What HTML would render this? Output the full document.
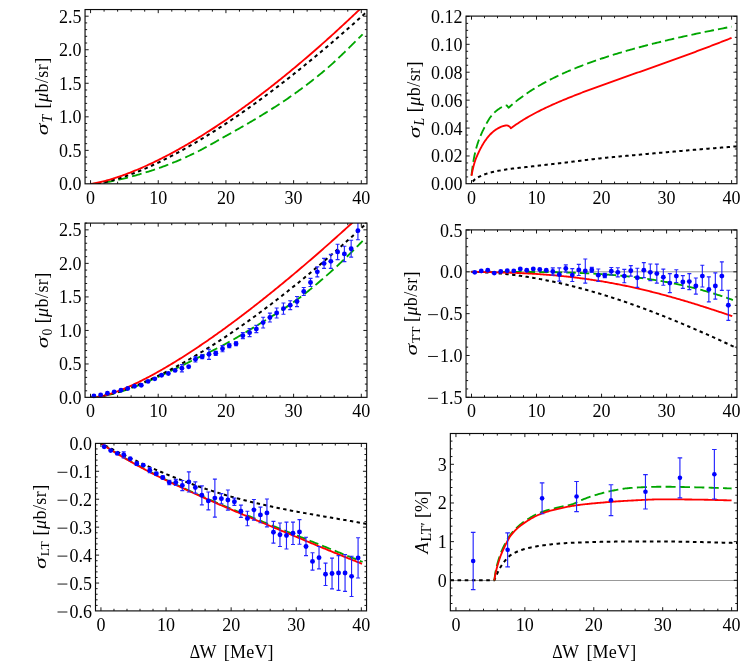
<!DOCTYPE html>
<html><head><meta charset="utf-8"><title>chart</title>
<style>html,body{margin:0;padding:0;background:#fff;}svg{display:block;will-change:transform;}text{font-family:"Liberation Serif",serif;}</style></head>
<body>
<svg width="747" height="662" viewBox="0 0 747 662" font-family='"Liberation Serif", serif' font-size="18" fill="#000">
<defs>
<clipPath id="c1"><rect x="85.05" y="9.55" width="281.9" height="174.25"/></clipPath>
<clipPath id="c2"><rect x="466.05" y="16.1" width="270.9" height="167.6"/></clipPath>
<clipPath id="c3"><rect x="85.05" y="223.1" width="281.95" height="174.25"/></clipPath>
<clipPath id="c4"><rect x="466.05" y="229.9" width="270.9" height="167.4"/></clipPath>
<clipPath id="c5"><rect x="95.5" y="443.4" width="271.05" height="167.5"/></clipPath>
<clipPath id="c6"><rect x="450.35" y="433.5" width="287.05" height="177.3"/></clipPath>
</defs>
<path d="M90.55 183.9L91.69 183.86L92.83 183.8L93.97 183.72L95.1 183.63L96.24 183.52L97.38 183.4L98.52 183.27L99.66 183.13L100.8 182.98L101.94 182.82L103.07 182.66L104.21 182.49L105.35 182.31L106.49 182.13L107.63 181.93L108.77 181.73L109.9 181.52L111.04 181.31L112.18 181.09L113.32 180.87L114.46 180.63L115.6 180.4L116.74 180.16L117.87 179.91L119.01 179.66L120.15 179.41L121.29 179.15L122.43 178.88L123.57 178.61L124.71 178.32L125.84 178.03L126.98 177.74L128.12 177.44L129.26 177.14L130.4 176.84L131.54 176.53L132.67 176.22L133.81 175.91L134.95 175.59L136.09 175.27L137.23 174.95L138.37 174.62L139.51 174.29L140.64 173.96L141.78 173.62L142.92 173.28L144.06 172.94L145.2 172.59L146.34 172.24L147.48 171.88L148.61 171.53L149.75 171.16L150.89 170.8L152.03 170.43L153.17 170.05L154.31 169.67L155.45 169.29L156.58 168.91L157.72 168.52L158.86 168.12L160 167.72L161.14 167.31L162.28 166.9L163.41 166.48L164.55 166.06L165.69 165.63L166.83 165.19L167.97 164.75L169.11 164.31L170.25 163.86L171.38 163.4L172.52 162.94L173.66 162.47L174.8 162L175.94 161.53L177.08 161.04L178.22 160.56L179.35 160.07L180.49 159.58L181.63 159.08L182.77 158.57L183.91 158.07L185.05 157.56L186.18 157.04L187.32 156.52L188.46 156L189.6 155.48L190.74 154.95L191.88 154.41L193.02 153.88L194.15 153.33L195.29 152.77L196.43 152.2L197.57 151.63L198.71 151.05L199.85 150.46L200.99 149.86L202.12 149.26L203.26 148.65L204.4 148.04L205.54 147.42L206.68 146.79L207.82 146.17L208.95 145.53L210.09 144.9L211.23 144.26L212.37 143.62L213.51 142.97L214.65 142.33L215.79 141.68L216.92 141.03L218.06 140.39L219.2 139.74L220.34 139.09L221.48 138.44L222.62 137.8L223.76 137.16L224.89 136.52L226.03 135.88L227.17 135.24L228.31 134.6L229.45 133.97L230.59 133.33L231.73 132.69L232.86 132.05L234 131.41L235.14 130.77L236.28 130.13L237.42 129.48L238.56 128.84L239.69 128.19L240.83 127.55L241.97 126.9L243.11 126.25L244.25 125.59L245.39 124.94L246.53 124.28L247.66 123.62L248.8 122.96L249.94 122.29L251.08 121.62L252.22 120.95L253.36 120.28L254.5 119.6L255.63 118.92L256.77 118.24L257.91 117.55L259.05 116.86L260.19 116.16L261.33 115.46L262.46 114.77L263.6 114.06L264.74 113.36L265.88 112.66L267.02 111.95L268.16 111.24L269.3 110.53L270.43 109.81L271.57 109.1L272.71 108.37L273.85 107.65L274.99 106.92L276.13 106.19L277.27 105.46L278.4 104.72L279.54 103.98L280.68 103.23L281.82 102.48L282.96 101.72L284.1 100.96L285.24 100.2L286.37 99.43L287.51 98.66L288.65 97.88L289.79 97.09L290.93 96.3L292.07 95.51L293.2 94.7L294.34 93.9L295.48 93.08L296.62 92.27L297.76 91.45L298.9 90.62L300.04 89.79L301.17 88.95L302.31 88.11L303.45 87.26L304.59 86.41L305.73 85.55L306.87 84.69L308.01 83.82L309.14 82.95L310.28 82.07L311.42 81.18L312.56 80.29L313.7 79.39L314.84 78.49L315.97 77.58L317.11 76.66L318.25 75.74L319.39 74.81L320.53 73.88L321.67 72.94L322.81 71.99L323.94 71.04L325.08 70.08L326.22 69.11L327.36 68.14L328.5 67.15L329.64 66.16L330.78 65.15L331.91 64.13L333.05 63.09L334.19 62.05L335.33 61L336.47 59.94L337.61 58.87L338.75 57.79L339.88 56.7L341.02 55.61L342.16 54.51L343.3 53.41L344.44 52.3L345.58 51.18L346.71 50.06L347.85 48.94L348.99 47.82L350.13 46.69L351.27 45.56L352.41 44.43L353.55 43.3L354.68 42.18L355.82 41.05L356.96 39.92L358.1 38.8L359.24 37.68L360.38 36.56L361.52 35.44L362.65 34.32" fill="none" stroke="#00a600" stroke-width="1.85" stroke-dasharray="9.87 4.23" clip-path="url(#c1)"/>
<path d="M90.55 183.9L91.7 183.92L92.85 183.88L94 183.81L95.15 183.71L96.3 183.58L97.45 183.44L98.6 183.28L99.75 183.1L100.9 182.9L102.05 182.69L103.2 182.47L104.35 182.24L105.5 181.99L106.65 181.74L107.8 181.47L108.95 181.19L110.1 180.91L111.25 180.61L112.4 180.3L113.55 179.99L114.7 179.66L115.85 179.33L117 178.99L118.15 178.64L119.3 178.29L120.45 177.93L121.6 177.56L122.75 177.18L123.9 176.79L125.05 176.4L126.19 176L127.34 175.6L128.49 175.19L129.64 174.77L130.79 174.35L131.94 173.92L133.09 173.48L134.24 173.04L135.39 172.59L136.54 172.14L137.69 171.68L138.84 171.21L139.99 170.74L141.14 170.27L142.29 169.79L143.44 169.3L144.59 168.81L145.74 168.31L146.89 167.81L148.04 167.3L149.19 166.79L150.34 166.28L151.49 165.75L152.64 165.23L153.79 164.7L154.94 164.16L156.09 163.62L157.24 163.08L158.39 162.53L159.54 161.98L160.69 161.42L161.84 160.86L162.99 160.29L164.14 159.72L165.29 159.14L166.44 158.56L167.59 157.98L168.74 157.39L169.89 156.8L171.04 156.2L172.19 155.6L173.34 155L174.49 154.39L175.64 153.78L176.79 153.17L177.94 152.55L179.09 151.92L180.24 151.3L181.39 150.66L182.54 150.03L183.69 149.39L184.84 148.75L185.99 148.1L187.14 147.46L188.29 146.8L189.44 146.15L190.59 145.49L191.74 144.82L192.89 144.16L194.04 143.48L195.19 142.81L196.34 142.13L197.48 141.45L198.63 140.77L199.78 140.08L200.93 139.39L202.08 138.7L203.23 138L204.38 137.3L205.53 136.59L206.68 135.89L207.83 135.18L208.98 134.46L210.13 133.75L211.28 133.03L212.43 132.3L213.58 131.58L214.73 130.85L215.88 130.11L217.03 129.38L218.18 128.64L219.33 127.9L220.48 127.15L221.63 126.41L222.78 125.66L223.93 124.9L225.08 124.14L226.23 123.39L227.38 122.62L228.53 121.86L229.68 121.09L230.83 120.32L231.98 119.54L233.13 118.77L234.28 117.99L235.43 117.2L236.58 116.42L237.73 115.63L238.88 114.84L240.03 114.05L241.18 113.25L242.33 112.45L243.48 111.65L244.63 110.84L245.78 110.04L246.93 109.23L248.08 108.41L249.23 107.6L250.38 106.78L251.53 105.96L252.68 105.13L253.83 104.31L254.98 103.48L256.13 102.65L257.28 101.81L258.43 100.98L259.58 100.14L260.73 99.3L261.88 98.45L263.03 97.61L264.18 96.76L265.33 95.91L266.48 95.05L267.63 94.19L268.77 93.33L269.92 92.47L271.07 91.61L272.22 90.74L273.37 89.87L274.52 89L275.67 88.13L276.82 87.25L277.97 86.37L279.12 85.49L280.27 84.61L281.42 83.72L282.57 82.83L283.72 81.94L284.87 81.05L286.02 80.15L287.17 79.25L288.32 78.35L289.47 77.45L290.62 76.55L291.77 75.64L292.92 74.73L294.07 73.82L295.22 72.9L296.37 71.99L297.52 71.07L298.67 70.15L299.82 69.22L300.97 68.3L302.12 67.37L303.27 66.44L304.42 65.51L305.57 64.58L306.72 63.64L307.87 62.7L309.02 61.76L310.17 60.82L311.32 59.87L312.47 58.92L313.62 57.97L314.77 57.02L315.92 56.07L317.07 55.11L318.22 54.15L319.37 53.19L320.52 52.23L321.67 51.26L322.82 50.3L323.97 49.33L325.12 48.36L326.27 47.38L327.42 46.41L328.57 45.43L329.72 44.45L330.87 43.47L332.02 42.49L333.17 41.5L334.32 40.51L335.47 39.52L336.62 38.53L337.77 37.54L338.91 36.54L340.06 35.54L341.21 34.54L342.36 33.54L343.51 32.54L344.66 31.53L345.81 30.52L346.96 29.51L348.11 28.5L349.26 27.49L350.41 26.47L351.56 25.45L352.71 24.43L353.86 23.41L355.01 22.39L356.16 21.36L357.31 20.33L358.46 19.31L359.61 18.27L360.76 17.24L361.91 16.2L363.06 15.17L364.21 14.13L365.36 13.09" fill="none" stroke="#000" stroke-width="2.0" stroke-linejoin="round" stroke-dasharray="3.52 3.52" clip-path="url(#c1)"/>
<path d="M90.55 183.9L91.7 183.76L92.85 183.59L94 183.4L95.15 183.2L96.3 182.98L97.45 182.75L98.6 182.5L99.75 182.25L100.9 181.98L102.05 181.71L103.2 181.42L104.35 181.13L105.5 180.82L106.65 180.51L107.8 180.19L108.95 179.86L110.1 179.53L111.25 179.18L112.4 178.83L113.55 178.47L114.7 178.11L115.85 177.74L117 177.36L118.15 176.97L119.3 176.58L120.45 176.18L121.6 175.78L122.75 175.37L123.9 174.95L125.05 174.53L126.19 174.1L127.34 173.67L128.49 173.23L129.64 172.78L130.79 172.33L131.94 171.87L133.09 171.41L134.24 170.94L135.39 170.47L136.54 169.99L137.69 169.51L138.84 169.02L139.99 168.53L141.14 168.03L142.29 167.53L143.44 167.02L144.59 166.51L145.74 165.99L146.89 165.47L148.04 164.94L149.19 164.41L150.34 163.87L151.49 163.33L152.64 162.79L153.79 162.24L154.94 161.68L156.09 161.13L157.24 160.56L158.39 159.99L159.54 159.42L160.69 158.85L161.84 158.27L162.99 157.68L164.14 157.09L165.29 156.5L166.44 155.9L167.59 155.3L168.74 154.7L169.89 154.09L171.04 153.47L172.19 152.85L173.34 152.23L174.49 151.61L175.64 150.98L176.79 150.34L177.94 149.71L179.09 149.07L180.24 148.42L181.39 147.77L182.54 147.12L183.69 146.46L184.84 145.8L185.99 145.14L187.14 144.47L188.29 143.8L189.44 143.13L190.59 142.45L191.74 141.76L192.89 141.08L194.04 140.39L195.19 139.7L196.34 139L197.48 138.3L198.63 137.59L199.78 136.89L200.93 136.18L202.08 135.46L203.23 134.74L204.38 134.02L205.53 133.3L206.68 132.57L207.83 131.84L208.98 131.1L210.13 130.37L211.28 129.62L212.43 128.88L213.58 128.13L214.73 127.38L215.88 126.62L217.03 125.87L218.18 125.1L219.33 124.34L220.48 123.57L221.63 122.8L222.78 122.02L223.93 121.25L225.08 120.47L226.23 119.68L227.38 118.89L228.53 118.1L229.68 117.31L230.83 116.51L231.98 115.71L233.13 114.91L234.28 114.1L235.43 113.29L236.58 112.48L237.73 111.67L238.88 110.85L240.03 110.03L241.18 109.2L242.33 108.37L243.48 107.54L244.63 106.71L245.78 105.87L246.93 105.03L248.08 104.19L249.23 103.34L250.38 102.49L251.53 101.64L252.68 100.79L253.83 99.93L254.98 99.07L256.13 98.21L257.28 97.34L258.43 96.47L259.58 95.6L260.73 94.72L261.88 93.85L263.03 92.96L264.18 92.08L265.33 91.19L266.48 90.3L267.63 89.41L268.77 88.52L269.92 87.62L271.07 86.72L272.22 85.82L273.37 84.91L274.52 84L275.67 83.09L276.82 82.17L277.97 81.26L279.12 80.34L280.27 79.41L281.42 78.49L282.57 77.56L283.72 76.63L284.87 75.69L286.02 74.76L287.17 73.82L288.32 72.88L289.47 71.93L290.62 70.99L291.77 70.04L292.92 69.08L294.07 68.13L295.22 67.17L296.37 66.21L297.52 65.25L298.67 64.28L299.82 63.31L300.97 62.34L302.12 61.37L303.27 60.39L304.42 59.41L305.57 58.43L306.72 57.45L307.87 56.46L309.02 55.47L310.17 54.48L311.32 53.48L312.47 52.49L313.62 51.49L314.77 50.48L315.92 49.48L317.07 48.47L318.22 47.46L319.37 46.45L320.52 45.44L321.67 44.42L322.82 43.4L323.97 42.38L325.12 41.35L326.27 40.32L327.42 39.29L328.57 38.26L329.72 37.23L330.87 36.19L332.02 35.15L333.17 34.11L334.32 33.06L335.47 32.02L336.62 30.97L337.77 29.92L338.91 28.86L340.06 27.8L341.21 26.74L342.36 25.68L343.51 24.62L344.66 23.55L345.81 22.48L346.96 21.41L348.11 20.34L349.26 19.26L350.41 18.18L351.56 17.1L352.71 16.02L353.86 14.93L355.01 13.85L356.16 12.76L357.31 11.66L358.46 10.57L359.61 9.47L360.76 8.37L361.91 7.27L363.06 6.16L364.21 5.06L365.36 3.95" fill="none" stroke="#ff0000" stroke-width="1.85" stroke-linejoin="round" clip-path="url(#c1)"/>
<path d="M90.55 183.8v-3.6M90.55 9.55v3.6M104.09 183.8v-2.1M104.09 9.55v2.1M117.62 183.8v-2.1M117.62 9.55v2.1M131.16 183.8v-2.1M131.16 9.55v2.1M144.7 183.8v-2.1M144.7 9.55v2.1M158.24 183.8v-3.6M158.24 9.55v3.6M171.77 183.8v-2.1M171.77 9.55v2.1M185.31 183.8v-2.1M185.31 9.55v2.1M198.85 183.8v-2.1M198.85 9.55v2.1M212.39 183.8v-2.1M212.39 9.55v2.1M225.93 183.8v-3.6M225.93 9.55v3.6M239.46 183.8v-2.1M239.46 9.55v2.1M253 183.8v-2.1M253 9.55v2.1M266.54 183.8v-2.1M266.54 9.55v2.1M280.07 183.8v-2.1M280.07 9.55v2.1M293.61 183.8v-3.6M293.61 9.55v3.6M307.15 183.8v-2.1M307.15 9.55v2.1M320.69 183.8v-2.1M320.69 9.55v2.1M334.22 183.8v-2.1M334.22 9.55v2.1M347.76 183.8v-2.1M347.76 9.55v2.1M361.3 183.8v-3.6M361.3 9.55v3.6M85.05 177.19h2.1M366.95 177.19h-2.1M85.05 170.48h2.1M366.95 170.48h-2.1M85.05 163.78h2.1M366.95 163.78h-2.1M85.05 157.07h2.1M366.95 157.07h-2.1M85.05 150.36h3.6M366.95 150.36h-3.6M85.05 143.65h2.1M366.95 143.65h-2.1M85.05 136.94h2.1M366.95 136.94h-2.1M85.05 130.24h2.1M366.95 130.24h-2.1M85.05 123.53h2.1M366.95 123.53h-2.1M85.05 116.82h3.6M366.95 116.82h-3.6M85.05 110.11h2.1M366.95 110.11h-2.1M85.05 103.4h2.1M366.95 103.4h-2.1M85.05 96.7h2.1M366.95 96.7h-2.1M85.05 89.99h2.1M366.95 89.99h-2.1M85.05 83.28h3.6M366.95 83.28h-3.6M85.05 76.57h2.1M366.95 76.57h-2.1M85.05 69.86h2.1M366.95 69.86h-2.1M85.05 63.16h2.1M366.95 63.16h-2.1M85.05 56.45h2.1M366.95 56.45h-2.1M85.05 49.74h3.6M366.95 49.74h-3.6M85.05 43.03h2.1M366.95 43.03h-2.1M85.05 36.32h2.1M366.95 36.32h-2.1M85.05 29.62h2.1M366.95 29.62h-2.1M85.05 22.91h2.1M366.95 22.91h-2.1M85.05 16.2h3.6M366.95 16.2h-3.6" stroke="#0c0c0c" stroke-width="0.95" fill="none"/>
<rect x="85.05" y="9.55" width="281.9" height="174.25" fill="none" stroke="#0c0c0c" stroke-width="1.15"/>
<text x="81.45" y="190.4" text-anchor="end">0.0</text>
<text x="81.45" y="156.86" text-anchor="end">0.5</text>
<text x="81.45" y="123.32" text-anchor="end">1.0</text>
<text x="81.45" y="89.78" text-anchor="end">1.5</text>
<text x="81.45" y="56.24" text-anchor="end">2.0</text>
<text x="81.45" y="22.7" text-anchor="end">2.5</text>
<text x="90.55" y="203.9" text-anchor="middle">0</text>
<text x="158.24" y="203.9" text-anchor="middle">10</text>
<text x="225.93" y="203.9" text-anchor="middle">20</text>
<text x="293.61" y="203.9" text-anchor="middle">30</text>
<text x="361.3" y="203.9" text-anchor="middle">40</text>
<path d="M471.5 175.25L471.95 171.48L472.4 167.97L472.85 164.78L473.29 161.93L473.74 159.33L474.19 156.95L474.64 154.81L475.09 152.84L475.54 150.98L475.99 149.22L476.43 147.55L476.88 145.98L477.33 144.49L477.78 143.1L478.23 141.79L478.68 140.54L479.13 139.33L479.57 138.16L480.02 137.04L480.47 135.95L480.92 134.9L481.37 133.88L481.82 132.88L482.27 131.92L482.71 130.97L483.16 130.05L483.61 129.14L484.06 128.24L484.51 127.36L484.96 126.48L485.41 125.62L485.85 124.76L486.3 123.91L486.75 123.08L487.2 122.26L487.65 121.46L488.1 120.69L488.55 119.94L489 119.21L489.44 118.51L489.89 117.85L490.34 117.22L490.79 116.62L491.24 116.06L491.69 115.51L492.14 114.99L492.58 114.47L493.03 113.98L493.48 113.5L493.93 113.04L494.38 112.59L494.83 112.16L495.28 111.75L495.72 111.35L496.17 110.97L496.62 110.6L497.07 110.25L497.52 109.91L497.97 109.59L498.42 109.27L498.86 108.95L499.31 108.64L499.76 108.34L500.21 108.05L500.66 107.77L501.11 107.5L501.56 107.24L502 107L502.45 106.78L502.9 106.57L503.35 106.39L503.8 106.22L504.25 106.08L504.7 105.94L505.14 105.82L505.59 105.71L506.04 105.61L506.49 105.52L506.94 105.45L508.56 107.8L509.97 106.53L511.37 105.29L512.77 104.08L514.18 102.9L515.58 101.75L516.98 100.62L518.38 99.53L519.79 98.45L521.19 97.4L522.59 96.38L523.99 95.37L525.4 94.39L526.8 93.42L528.2 92.48L529.61 91.55L531.01 90.64L532.41 89.75L533.81 88.87L535.22 88.01L536.62 87.16L538.02 86.33L539.42 85.52L540.83 84.71L542.23 83.92L543.63 83.14L545.04 82.38L546.44 81.62L547.84 80.88L549.24 80.15L550.65 79.43L552.05 78.72L553.45 78.02L554.85 77.33L556.26 76.65L557.66 75.98L559.06 75.31L560.47 74.66L561.87 74.02L563.27 73.38L564.67 72.75L566.08 72.13L567.48 71.52L568.88 70.91L570.28 70.32L571.69 69.73L573.09 69.14L574.49 68.57L575.9 68L577.3 67.43L578.7 66.87L580.1 66.32L581.51 65.78L582.91 65.24L584.31 64.71L585.71 64.18L587.12 63.66L588.52 63.14L589.92 62.63L591.33 62.12L592.73 61.62L594.13 61.12L595.53 60.63L596.94 60.15L598.34 59.67L599.74 59.19L601.15 58.72L602.55 58.25L603.95 57.78L605.35 57.32L606.76 56.87L608.16 56.42L609.56 55.97L610.96 55.52L612.37 55.08L613.77 54.65L615.17 54.22L616.58 53.79L617.98 53.36L619.38 52.94L620.78 52.52L622.19 52.11L623.59 51.69L624.99 51.29L626.39 50.88L627.8 50.48L629.2 50.08L630.6 49.68L632.01 49.29L633.41 48.9L634.81 48.51L636.21 48.13L637.62 47.75L639.02 47.37L640.42 46.99L641.82 46.62L643.23 46.25L644.63 45.88L646.03 45.51L647.44 45.15L648.84 44.79L650.24 44.43L651.64 44.07L653.05 43.72L654.45 43.37L655.85 43.02L657.25 42.67L658.66 42.32L660.06 41.98L661.46 41.64L662.87 41.3L664.27 40.96L665.67 40.63L667.07 40.3L668.48 39.96L669.88 39.64L671.28 39.31L672.68 38.98L674.09 38.66L675.49 38.34L676.89 38.02L678.3 37.7L679.7 37.38L681.1 37.07L682.5 36.75L683.91 36.44L685.31 36.13L686.71 35.83L688.12 35.52L689.52 35.21L690.92 34.91L692.32 34.61L693.73 34.31L695.13 34.01L696.53 33.71L697.93 33.41L699.34 33.12L700.74 32.83L702.14 32.53L703.55 32.24L704.95 31.95L706.35 31.66L707.75 31.38L709.16 31.09L710.56 30.81L711.96 30.52L713.36 30.24L714.77 29.96L716.17 29.68L717.57 29.4L718.98 29.13L720.38 28.85L721.78 28.57L723.18 28.3L724.59 28.03L725.99 27.76L727.39 27.48L728.79 27.22L730.2 26.95L731.6 26.68" fill="none" stroke="#00a600" stroke-width="1.85" stroke-linejoin="round" stroke-dasharray="9.48 4.06"/>
<path d="M472.8 181.47L473.91 180.22L475.01 179.22L476.12 178.44L477.22 177.77L478.33 177.17L479.43 176.59L480.54 176.06L481.64 175.55L482.75 175.08L483.85 174.65L484.96 174.25L486.06 173.87L487.17 173.52L488.27 173.19L489.38 172.88L490.48 172.59L491.59 172.31L492.69 172.04L493.8 171.79L494.91 171.54L496.01 171.29L497.12 171.06L498.22 170.84L499.33 170.62L500.43 170.41L501.54 170.21L502.64 170.02L503.75 169.84L504.85 169.67L505.96 169.5L507.06 169.34L508.17 169.19L509.27 169.03L510.38 168.88L511.48 168.74L512.59 168.6L513.69 168.46L514.8 168.32L515.9 168.19L517.01 168.06L518.11 167.93L519.22 167.81L520.33 167.68L521.43 167.56L522.54 167.44L523.64 167.32L524.75 167.2L525.85 167.08L526.96 166.96L528.06 166.84L529.17 166.72L530.27 166.6L531.38 166.48L532.48 166.36L533.59 166.23L534.69 166.11L535.8 165.98L536.9 165.85L538.01 165.72L539.11 165.59L540.22 165.46L541.32 165.33L542.43 165.2L543.54 165.07L544.64 164.95L545.75 164.82L546.85 164.69L547.96 164.56L549.06 164.44L550.17 164.31L551.27 164.18L552.38 164.06L553.48 163.93L554.59 163.8L555.69 163.67L556.8 163.55L557.9 163.42L559.01 163.29L560.11 163.17L561.22 163.04L562.32 162.91L563.43 162.78L564.53 162.65L565.64 162.52L566.74 162.39L567.85 162.26L568.96 162.13L570.06 162L571.17 161.87L572.27 161.74L573.38 161.6L574.48 161.47L575.59 161.33L576.69 161.19L577.8 161.06L578.9 160.92L580.01 160.78L581.11 160.64L582.22 160.5L583.32 160.37L584.43 160.23L585.53 160.09L586.64 159.95L587.74 159.82L588.85 159.68L589.95 159.55L591.06 159.41L592.17 159.28L593.27 159.15L594.38 159.02L595.48 158.89L596.59 158.76L597.69 158.64L598.8 158.51L599.9 158.39L601.01 158.27L602.11 158.16L603.22 158.04L604.32 157.93L605.43 157.82L606.53 157.7L607.64 157.59L608.74 157.49L609.85 157.38L610.95 157.27L612.06 157.16L613.16 157.06L614.27 156.96L615.37 156.85L616.48 156.75L617.59 156.65L618.69 156.54L619.8 156.44L620.9 156.34L622.01 156.24L623.11 156.14L624.22 156.04L625.32 155.94L626.43 155.84L627.53 155.74L628.64 155.64L629.74 155.54L630.85 155.44L631.95 155.34L633.06 155.24L634.16 155.14L635.27 155.03L636.37 154.93L637.48 154.83L638.58 154.73L639.69 154.63L640.8 154.53L641.9 154.43L643.01 154.33L644.11 154.23L645.22 154.12L646.32 154.02L647.43 153.92L648.53 153.82L649.64 153.72L650.74 153.62L651.85 153.53L652.95 153.43L654.06 153.33L655.16 153.23L656.27 153.13L657.37 153.03L658.48 152.93L659.58 152.83L660.69 152.73L661.79 152.64L662.9 152.54L664 152.44L665.11 152.34L666.22 152.25L667.32 152.15L668.43 152.05L669.53 151.96L670.64 151.86L671.74 151.76L672.85 151.67L673.95 151.57L675.06 151.47L676.16 151.38L677.27 151.28L678.37 151.19L679.48 151.09L680.58 150.99L681.69 150.9L682.79 150.8L683.9 150.71L685 150.61L686.11 150.52L687.21 150.43L688.32 150.33L689.43 150.24L690.53 150.14L691.64 150.05L692.74 149.96L693.85 149.86L694.95 149.77L696.06 149.68L697.16 149.58L698.27 149.49L699.37 149.4L700.48 149.31L701.58 149.22L702.69 149.12L703.79 149.03L704.9 148.94L706 148.85L707.11 148.76L708.21 148.67L709.32 148.58L710.42 148.49L711.53 148.41L712.63 148.32L713.74 148.23L714.85 148.14L715.95 148.05L717.06 147.96L718.16 147.87L719.27 147.78L720.37 147.69L721.48 147.6L722.58 147.51L723.69 147.42L724.79 147.33L725.9 147.24L727 147.15L728.11 147.06L729.21 146.97L730.32 146.88L731.42 146.79L732.53 146.69L733.63 146.6L734.74 146.5L735.84 146.41L736.95 146.31" fill="none" stroke="#000" stroke-width="2.0" stroke-dasharray="3.39 3.39" clip-path="url(#c2)"/>
<path d="M471.5 175.8L472 173.15L472.5 170.68L472.99 168.41L473.49 166.34L473.99 164.42L474.49 162.68L474.99 161.15L475.48 159.74L475.98 158.42L476.48 157.19L476.98 156.02L477.48 154.9L477.97 153.81L478.47 152.75L478.97 151.7L479.47 150.68L479.97 149.68L480.46 148.7L480.96 147.75L481.46 146.82L481.96 145.92L482.46 145.05L482.95 144.2L483.45 143.38L483.95 142.59L484.45 141.83L484.95 141.1L485.44 140.38L485.94 139.67L486.44 138.99L486.94 138.32L487.44 137.67L487.93 137.04L488.43 136.43L488.93 135.85L489.43 135.28L489.93 134.74L490.42 134.22L490.92 133.73L491.42 133.26L491.92 132.8L492.42 132.35L492.91 131.92L493.41 131.5L493.91 131.09L494.41 130.7L494.9 130.32L495.4 129.96L495.9 129.61L496.4 129.29L496.9 128.98L497.39 128.69L497.89 128.41L498.39 128.14L498.89 127.88L499.39 127.62L499.88 127.37L500.38 127.13L500.88 126.91L501.38 126.69L501.88 126.49L502.37 126.31L502.87 126.14L503.37 125.99L503.87 125.87L504.37 125.75L504.86 125.64L505.36 125.54L505.86 125.47L506.36 125.42L506.86 125.43L507.35 125.52L507.85 125.69L508.35 125.91L508.85 126.18L509.35 126.48L509.84 126.93L510.34 127.53L510.84 128.21L510.84 128.37L512.23 127.33L513.62 126.31L515.01 125.32L516.39 124.35L517.78 123.4L519.17 122.48L520.56 121.58L521.95 120.69L523.34 119.83L524.72 118.98L526.11 118.16L527.5 117.34L528.89 116.54L530.28 115.76L531.67 114.99L533.05 114.23L534.44 113.49L535.83 112.75L537.22 112.03L538.61 111.32L540 110.62L541.39 109.93L542.77 109.25L544.16 108.58L545.55 107.91L546.94 107.26L548.33 106.61L549.72 105.97L551.1 105.34L552.49 104.71L553.88 104.09L555.27 103.48L556.66 102.87L558.05 102.27L559.44 101.68L560.82 101.09L562.21 100.5L563.6 99.92L564.99 99.35L566.38 98.78L567.77 98.21L569.15 97.65L570.54 97.09L571.93 96.54L573.32 95.99L574.71 95.44L576.1 94.9L577.48 94.36L578.87 93.82L580.26 93.29L581.65 92.76L583.04 92.23L584.43 91.7L585.82 91.18L587.2 90.66L588.59 90.14L589.98 89.62L591.37 89.11L592.76 88.59L594.15 88.08L595.53 87.57L596.92 87.06L598.31 86.56L599.7 86.05L601.09 85.55L602.48 85.05L603.86 84.55L605.25 84.05L606.64 83.55L608.03 83.05L609.42 82.56L610.81 82.06L612.2 81.57L613.58 81.07L614.97 80.58L616.36 80.09L617.75 79.59L619.14 79.1L620.53 78.61L621.91 78.12L623.3 77.63L624.69 77.14L626.08 76.65L627.47 76.16L628.86 75.67L630.24 75.18L631.63 74.7L633.02 74.21L634.41 73.72L635.8 73.23L637.19 72.74L638.58 72.25L639.96 71.76L641.35 71.27L642.74 70.78L644.13 70.29L645.52 69.8L646.91 69.31L648.29 68.82L649.68 68.33L651.07 67.84L652.46 67.35L653.85 66.86L655.24 66.36L656.62 65.87L658.01 65.38L659.4 64.88L660.79 64.39L662.18 63.89L663.57 63.4L664.96 62.9L666.34 62.4L667.73 61.9L669.12 61.41L670.51 60.91L671.9 60.4L673.29 59.9L674.67 59.4L676.06 58.9L677.45 58.39L678.84 57.89L680.23 57.38L681.62 56.88L683.01 56.37L684.39 55.86L685.78 55.35L687.17 54.84L688.56 54.33L689.95 53.82L691.34 53.31L692.72 52.79L694.11 52.28L695.5 51.76L696.89 51.24L698.28 50.72L699.67 50.2L701.05 49.68L702.44 49.16L703.83 48.64L705.22 48.11L706.61 47.58L708 47.06L709.39 46.53L710.77 46L712.16 45.47L713.55 44.94L714.94 44.4L716.33 43.87L717.72 43.33L719.1 42.8L720.49 42.26L721.88 41.72L723.27 41.18L724.66 40.64L726.05 40.09L727.43 39.55L728.82 39L730.21 38.45L731.6 37.9" fill="none" stroke="#ff0000" stroke-width="1.85" stroke-linejoin="round"/>
<path d="M471.5 183.7v-3.6M471.5 16.1v3.6M484.5 183.7v-2.1M484.5 16.1v2.1M497.51 183.7v-2.1M497.51 16.1v2.1M510.51 183.7v-2.1M510.51 16.1v2.1M523.52 183.7v-2.1M523.52 16.1v2.1M536.52 183.7v-3.6M536.52 16.1v3.6M549.53 183.7v-2.1M549.53 16.1v2.1M562.53 183.7v-2.1M562.53 16.1v2.1M575.54 183.7v-2.1M575.54 16.1v2.1M588.54 183.7v-2.1M588.54 16.1v2.1M601.55 183.7v-3.6M601.55 16.1v3.6M614.56 183.7v-2.1M614.56 16.1v2.1M627.56 183.7v-2.1M627.56 16.1v2.1M640.57 183.7v-2.1M640.57 16.1v2.1M653.57 183.7v-2.1M653.57 16.1v2.1M666.58 183.7v-3.6M666.58 16.1v3.6M679.58 183.7v-2.1M679.58 16.1v2.1M692.59 183.7v-2.1M692.59 16.1v2.1M705.59 183.7v-2.1M705.59 16.1v2.1M718.6 183.7v-2.1M718.6 16.1v2.1M731.6 183.7v-3.6M731.6 16.1v3.6M466.05 176.92h2.1M736.95 176.92h-2.1M466.05 169.94h2.1M736.95 169.94h-2.1M466.05 162.96h2.1M736.95 162.96h-2.1M466.05 155.98h3.6M736.95 155.98h-3.6M466.05 149h2.1M736.95 149h-2.1M466.05 142.03h2.1M736.95 142.03h-2.1M466.05 135.05h2.1M736.95 135.05h-2.1M466.05 128.07h3.6M736.95 128.07h-3.6M466.05 121.09h2.1M736.95 121.09h-2.1M466.05 114.11h2.1M736.95 114.11h-2.1M466.05 107.13h2.1M736.95 107.13h-2.1M466.05 100.15h3.6M736.95 100.15h-3.6M466.05 93.17h2.1M736.95 93.17h-2.1M466.05 86.19h2.1M736.95 86.19h-2.1M466.05 79.21h2.1M736.95 79.21h-2.1M466.05 72.23h3.6M736.95 72.23h-3.6M466.05 65.25h2.1M736.95 65.25h-2.1M466.05 58.27h2.1M736.95 58.27h-2.1M466.05 51.3h2.1M736.95 51.3h-2.1M466.05 44.32h3.6M736.95 44.32h-3.6M466.05 37.34h2.1M736.95 37.34h-2.1M466.05 30.36h2.1M736.95 30.36h-2.1M466.05 23.38h2.1M736.95 23.38h-2.1M466.05 16.4h3.6M736.95 16.4h-3.6" stroke="#0c0c0c" stroke-width="0.95" fill="none"/>
<rect x="466.05" y="16.1" width="270.9" height="167.6" fill="none" stroke="#0c0c0c" stroke-width="1.15"/>
<text x="462.45" y="190.4" text-anchor="end">0.00</text>
<text x="462.45" y="162.48" text-anchor="end">0.02</text>
<text x="462.45" y="134.57" text-anchor="end">0.04</text>
<text x="462.45" y="106.65" text-anchor="end">0.06</text>
<text x="462.45" y="78.73" text-anchor="end">0.08</text>
<text x="462.45" y="50.82" text-anchor="end">0.10</text>
<text x="462.45" y="22.9" text-anchor="end">0.12</text>
<text x="471.5" y="203.8" text-anchor="middle">0</text>
<text x="536.52" y="203.8" text-anchor="middle">10</text>
<text x="601.55" y="203.8" text-anchor="middle">20</text>
<text x="666.58" y="203.8" text-anchor="middle">30</text>
<text x="731.6" y="203.8" text-anchor="middle">40</text>
<path d="M90.5 397.5L91.64 397.45L92.78 397.39L93.92 397.31L95.05 397.21L96.19 397.08L97.33 396.93L98.47 396.78L99.61 396.61L100.75 396.42L101.89 396.23L103.03 396.03L104.16 395.82L105.3 395.6L106.44 395.36L107.58 395.11L108.72 394.86L109.86 394.59L111 394.32L112.14 394.04L113.27 393.75L114.41 393.45L115.55 393.15L116.69 392.83L117.83 392.51L118.97 392.19L120.11 391.86L121.25 391.52L122.38 391.16L123.52 390.8L124.66 390.42L125.8 390.03L126.94 389.64L128.08 389.23L129.22 388.82L130.36 388.4L131.49 387.98L132.63 387.55L133.77 387.12L134.91 386.68L136.05 386.23L137.19 385.78L138.33 385.32L139.46 384.86L140.6 384.39L141.74 383.93L142.88 383.45L144.02 382.98L145.16 382.5L146.3 382.01L147.44 381.53L148.57 381.04L149.71 380.55L150.85 380.05L151.99 379.56L153.13 379.06L154.27 378.57L155.41 378.07L156.55 377.57L157.68 377.07L158.82 376.57L159.96 376.07L161.1 375.56L162.24 375.04L163.38 374.52L164.52 374L165.66 373.47L166.79 372.94L167.93 372.4L169.07 371.86L170.21 371.32L171.35 370.77L172.49 370.22L173.63 369.67L174.77 369.12L175.9 368.57L177.04 368.01L178.18 367.45L179.32 366.89L180.46 366.33L181.6 365.77L182.74 365.21L183.88 364.64L185.01 364.08L186.15 363.52L187.29 362.96L188.43 362.39L189.57 361.83L190.71 361.27L191.85 360.72L192.98 360.16L194.12 359.61L195.26 359.05L196.4 358.5L197.54 357.95L198.68 357.39L199.82 356.84L200.96 356.29L202.09 355.74L203.23 355.19L204.37 354.63L205.51 354.08L206.65 353.53L207.79 352.97L208.93 352.41L210.07 351.85L211.2 351.29L212.34 350.72L213.48 350.15L214.62 349.58L215.76 349.01L216.9 348.43L218.04 347.85L219.18 347.27L220.31 346.68L221.45 346.08L222.59 345.49L223.73 344.88L224.87 344.27L226.01 343.66L227.15 343.04L228.29 342.42L229.42 341.78L230.56 341.15L231.7 340.51L232.84 339.86L233.98 339.21L235.12 338.56L236.26 337.9L237.39 337.24L238.53 336.57L239.67 335.9L240.81 335.23L241.95 334.55L243.09 333.87L244.23 333.19L245.37 332.51L246.5 331.82L247.64 331.13L248.78 330.44L249.92 329.75L251.06 329.06L252.2 328.36L253.34 327.66L254.48 326.97L255.61 326.27L256.75 325.57L257.89 324.87L259.03 324.18L260.17 323.48L261.31 322.78L262.45 322.09L263.59 321.39L264.72 320.7L265.86 320L267 319.31L268.14 318.62L269.28 317.92L270.42 317.23L271.56 316.53L272.7 315.83L273.83 315.13L274.97 314.42L276.11 313.71L277.25 313L278.39 312.28L279.53 311.56L280.67 310.84L281.8 310.11L282.94 309.37L284.08 308.63L285.22 307.88L286.36 307.13L287.5 306.36L288.64 305.59L289.78 304.82L290.91 304.03L292.05 303.23L293.19 302.43L294.33 301.62L295.47 300.8L296.61 299.96L297.75 299.12L298.89 298.27L300.02 297.42L301.16 296.55L302.3 295.68L303.44 294.8L304.58 293.91L305.72 293.01L306.86 292.11L308 291.2L309.13 290.28L310.27 289.36L311.41 288.43L312.55 287.49L313.69 286.55L314.83 285.61L315.97 284.65L317.11 283.69L318.24 282.73L319.38 281.76L320.52 280.79L321.66 279.81L322.8 278.83L323.94 277.84L325.08 276.85L326.21 275.86L327.35 274.86L328.49 273.86L329.63 272.85L330.77 271.83L331.91 270.81L333.05 269.77L334.19 268.73L335.32 267.68L336.46 266.63L337.6 265.57L338.74 264.5L339.88 263.42L341.02 262.34L342.16 261.26L343.3 260.16L344.43 259.07L345.57 257.96L346.71 256.86L347.85 255.74L348.99 254.63L350.13 253.51L351.27 252.38L352.41 251.25L353.54 250.12L354.68 248.98L355.82 247.84L356.96 246.7L358.1 245.56L359.24 244.41L360.38 243.26L361.52 242.1L362.65 240.94" fill="none" stroke="#00a600" stroke-width="1.85" stroke-dasharray="9.87 4.23" clip-path="url(#c3)"/>
<path d="M90.5 397.5L91.65 397.48L92.8 397.42L93.95 397.32L95.1 397.2L96.25 397.05L97.4 396.89L98.55 396.71L99.7 396.52L100.85 396.31L102 396.09L103.15 395.86L104.3 395.62L105.45 395.36L106.6 395.1L107.75 394.82L108.9 394.54L110.05 394.24L111.2 393.94L112.35 393.62L113.5 393.3L114.65 392.97L115.8 392.64L116.95 392.29L118.1 391.94L119.25 391.58L120.4 391.21L121.55 390.84L122.7 390.45L123.85 390.07L125 389.67L126.15 389.27L127.3 388.86L128.45 388.45L129.6 388.02L130.75 387.6L131.9 387.16L133.05 386.73L134.2 386.28L135.35 385.83L136.5 385.37L137.65 384.91L138.8 384.44L139.95 383.97L141.1 383.49L142.25 383.01L143.4 382.52L144.55 382.03L145.7 381.53L146.85 381.02L148 380.52L149.15 380L150.3 379.48L151.45 378.96L152.6 378.43L153.75 377.9L154.9 377.36L156.05 376.82L157.2 376.27L158.35 375.72L159.5 375.16L160.65 374.6L161.8 374.04L162.95 373.47L164.1 372.89L165.25 372.32L166.4 371.73L167.55 371.15L168.7 370.56L169.85 369.96L171 369.36L172.15 368.76L173.3 368.15L174.45 367.54L175.6 366.93L176.75 366.31L177.9 365.69L179.05 365.06L180.2 364.43L181.35 363.79L182.5 363.16L183.65 362.51L184.8 361.87L185.95 361.22L187.1 360.57L188.25 359.91L189.4 359.25L190.55 358.59L191.7 357.92L192.85 357.25L194 356.57L195.15 355.89L196.3 355.21L197.45 354.53L198.6 353.84L199.75 353.15L200.9 352.45L202.05 351.75L203.2 351.05L204.35 350.34L205.51 349.63L206.66 348.92L207.81 348.2L208.96 347.49L210.11 346.76L211.26 346.04L212.41 345.31L213.56 344.58L214.71 343.84L215.86 343.1L217.01 342.36L218.16 341.62L219.31 340.87L220.46 340.12L221.61 339.36L222.76 338.61L223.91 337.85L225.06 337.08L226.21 336.32L227.36 335.55L228.51 334.77L229.66 334L230.81 333.22L231.96 332.44L233.11 331.65L234.26 330.87L235.41 330.08L236.56 329.28L237.71 328.49L238.86 327.69L240.01 326.88L241.16 326.08L242.31 325.27L243.46 324.46L244.61 323.65L245.76 322.83L246.91 322.01L248.06 321.19L249.21 320.37L250.36 319.54L251.51 318.71L252.66 317.88L253.81 317.04L254.96 316.2L256.11 315.36L257.26 314.52L258.41 313.67L259.56 312.82L260.71 311.97L261.86 311.12L263.01 310.26L264.16 309.4L265.31 308.54L266.46 307.67L267.61 306.8L268.76 305.93L269.91 305.06L271.06 304.18L272.21 303.31L273.36 302.43L274.51 301.54L275.66 300.66L276.81 299.77L277.96 298.88L279.11 297.98L280.26 297.09L281.41 296.19L282.56 295.29L283.71 294.39L284.86 293.48L286.01 292.57L287.16 291.66L288.31 290.75L289.46 289.83L290.61 288.91L291.76 287.99L292.91 287.07L294.06 286.14L295.21 285.22L296.36 284.29L297.51 283.35L298.66 282.42L299.81 281.48L300.96 280.54L302.11 279.6L303.26 278.65L304.41 277.71L305.56 276.76L306.71 275.81L307.86 274.85L309.01 273.9L310.16 272.94L311.31 271.98L312.46 271.01L313.61 270.05L314.76 269.08L315.91 268.11L317.06 267.14L318.21 266.16L319.36 265.19L320.51 264.21L321.66 263.23L322.81 262.24L323.96 261.26L325.11 260.27L326.26 259.28L327.41 258.29L328.56 257.29L329.71 256.29L330.86 255.3L332.01 254.29L333.16 253.29L334.31 252.28L335.46 251.28L336.61 250.27L337.76 249.25L338.91 248.24L340.06 247.22L341.21 246.21L342.36 245.18L343.51 244.16L344.66 243.14L345.81 242.11L346.96 241.08L348.11 240.05L349.26 239.01L350.41 237.98L351.56 236.94L352.71 235.9L353.86 234.86L355.01 233.82L356.16 232.77L357.31 231.72L358.46 230.67L359.61 229.62L360.76 228.56L361.91 227.51L363.06 226.45L364.21 225.39L365.36 224.33" fill="none" stroke="#000" stroke-width="2.0" stroke-linejoin="round" stroke-dasharray="3.52 3.52" clip-path="url(#c3)"/>
<path d="M90.5 397.5L91.65 397.63L92.8 397.63L93.95 397.56L95.1 397.45L96.25 397.31L97.4 397.14L98.55 396.93L99.7 396.71L100.85 396.47L102 396.21L103.15 395.93L104.3 395.63L105.45 395.32L106.6 394.99L107.75 394.65L108.9 394.3L110.05 393.94L111.2 393.56L112.35 393.18L113.5 392.78L114.65 392.38L115.8 391.96L116.95 391.53L118.1 391.1L119.25 390.66L120.4 390.21L121.55 389.75L122.7 389.28L123.85 388.8L125 388.32L126.15 387.83L127.3 387.33L128.45 386.83L129.6 386.31L130.75 385.8L131.9 385.27L133.05 384.74L134.2 384.2L135.35 383.66L136.5 383.11L137.65 382.55L138.8 381.99L139.95 381.43L141.1 380.85L142.25 380.28L143.4 379.69L144.55 379.11L145.7 378.51L146.85 377.91L148 377.31L149.15 376.7L150.3 376.09L151.45 375.47L152.6 374.85L153.75 374.22L154.9 373.59L156.05 372.95L157.2 372.31L158.35 371.66L159.5 371.01L160.65 370.36L161.8 369.7L162.95 369.04L164.1 368.37L165.25 367.7L166.4 367.03L167.55 366.35L168.7 365.67L169.85 364.98L171 364.29L172.15 363.6L173.3 362.9L174.45 362.2L175.6 361.49L176.75 360.78L177.9 360.07L179.05 359.35L180.2 358.63L181.35 357.91L182.5 357.18L183.65 356.45L184.8 355.72L185.95 354.98L187.1 354.24L188.25 353.5L189.4 352.75L190.55 352.01L191.7 351.25L192.85 350.5L194 349.74L195.15 348.97L196.3 348.21L197.45 347.44L198.6 346.67L199.75 345.89L200.9 345.12L202.05 344.34L203.2 343.55L204.35 342.77L205.51 341.98L206.66 341.19L207.81 340.39L208.96 339.59L210.11 338.79L211.26 337.99L212.41 337.18L213.56 336.37L214.71 335.56L215.86 334.75L217.01 333.93L218.16 333.11L219.31 332.29L220.46 331.46L221.61 330.64L222.76 329.81L223.91 328.97L225.06 328.14L226.21 327.3L227.36 326.46L228.51 325.62L229.66 324.77L230.81 323.92L231.96 323.07L233.11 322.22L234.26 321.37L235.41 320.51L236.56 319.65L237.71 318.79L238.86 317.92L240.01 317.05L241.16 316.18L242.31 315.31L243.46 314.44L244.61 313.56L245.76 312.68L246.91 311.8L248.06 310.92L249.21 310.03L250.36 309.15L251.51 308.26L252.66 307.36L253.81 306.47L254.96 305.57L256.11 304.67L257.26 303.77L258.41 302.87L259.56 301.97L260.71 301.06L261.86 300.15L263.01 299.24L264.16 298.32L265.31 297.41L266.46 296.49L267.61 295.57L268.76 294.65L269.91 293.73L271.06 292.8L272.21 291.87L273.36 290.94L274.51 290.01L275.66 289.08L276.81 288.14L277.96 287.2L279.11 286.26L280.26 285.32L281.41 284.38L282.56 283.43L283.71 282.49L284.86 281.54L286.01 280.58L287.16 279.63L288.31 278.68L289.46 277.72L290.61 276.76L291.76 275.8L292.91 274.84L294.06 273.87L295.21 272.91L296.36 271.94L297.51 270.97L298.66 270L299.81 269.02L300.96 268.05L302.11 267.07L303.26 266.09L304.41 265.11L305.56 264.13L306.71 263.14L307.86 262.16L309.01 261.17L310.16 260.18L311.31 259.19L312.46 258.2L313.61 257.2L314.76 256.21L315.91 255.21L317.06 254.21L318.21 253.21L319.36 252.2L320.51 251.2L321.66 250.19L322.81 249.18L323.96 248.17L325.11 247.16L326.26 246.15L327.41 245.14L328.56 244.12L329.71 243.1L330.86 242.08L332.01 241.06L333.16 240.04L334.31 239.01L335.46 237.99L336.61 236.96L337.76 235.93L338.91 234.9L340.06 233.87L341.21 232.83L342.36 231.8L343.51 230.76L344.66 229.72L345.81 228.68L346.96 227.64L348.11 226.6L349.26 225.55L350.41 224.51L351.56 223.46L352.71 222.41L353.86 221.36L355.01 220.31L356.16 219.25L357.31 218.2L358.46 217.14L359.61 216.08L360.76 215.02L361.91 213.96L363.06 212.9L364.21 211.83L365.36 210.77" fill="none" stroke="#ff0000" stroke-width="1.85" stroke-linejoin="round" clip-path="url(#c3)"/>
<path d="M181.9 364.57V371.82M179.9 364.57h4M179.9 371.82h4M195.44 356.66V362.03M193.44 356.66h4M193.44 362.03h4M202.21 354.72V358.74M200.21 354.72h4M200.21 358.74h4M208.98 349.28V359.34M206.98 349.28h4M206.98 359.34h4M215.75 351.3V355.32M213.75 351.3h4M213.75 355.32h4M222.52 345.66V351.7M220.52 345.66h4M220.52 351.7h4M229.28 343.72V347.74M227.28 343.72h4M227.28 347.74h4M236.06 341.71V345.73M234.06 341.71h4M234.06 345.73h4M242.83 332.65V338.69M240.83 332.65h4M240.83 338.69h4M249.59 328.63V336.68M247.59 328.63h4M247.59 336.68h4M256.37 325.41V332.65M254.37 325.41h4M254.37 332.65h4M263.13 317.23V327.96M261.13 317.23h4M261.13 327.96h4M269.9 313.14V321.99M267.9 313.14h4M267.9 321.99h4M276.68 307.97V318.03M274.68 307.97h4M274.68 318.03h4M283.45 302.95V314.21M281.45 302.95h4M281.45 314.21h4M290.22 300.73V309.58M288.22 300.73h4M288.22 309.58h4M296.99 296.51V306.57M294.99 296.51h4M294.99 306.57h4M303.75 287.45V295.5M301.75 287.45h4M301.75 295.5h4M310.52 278.4V286.45M308.52 278.4h4M308.52 286.45h4M317.3 266.8V276.86M315.3 266.8h4M315.3 276.86h4M324.07 258.35V268.41M322.07 258.35h4M322.07 268.41h4M330.84 254.33V268.41M328.84 254.33h4M328.84 268.41h4M337.61 244.27V259.56M335.61 244.27h4M335.61 259.56h4M344.38 246.28V261.57M342.38 246.28h4M342.38 261.57h4M351.15 240.24V257.14M349.15 240.24h4M349.15 257.14h4M357.92 221.6V239.71M355.92 221.6h4M355.92 239.71h4" fill="none" stroke="#2424ff" stroke-width="1.15" clip-path="url(#c3)"/>
<circle cx="93.89" cy="395.89" r="2.45" fill="#0000ff"/>
<circle cx="100.66" cy="394.88" r="2.45" fill="#0000ff"/>
<circle cx="107.42" cy="393.28" r="2.45" fill="#0000ff"/>
<circle cx="114.19" cy="391.87" r="2.45" fill="#0000ff"/>
<circle cx="120.97" cy="390.26" r="2.45" fill="#0000ff"/>
<circle cx="127.73" cy="388.45" r="2.45" fill="#0000ff"/>
<circle cx="134.5" cy="386.23" r="2.45" fill="#0000ff"/>
<circle cx="141.28" cy="385.23" r="2.45" fill="#0000ff"/>
<circle cx="148.05" cy="381.41" r="2.45" fill="#0000ff"/>
<circle cx="154.81" cy="378.86" r="2.45" fill="#0000ff"/>
<circle cx="161.59" cy="375.24" r="2.45" fill="#0000ff"/>
<circle cx="168.36" cy="373.43" r="2.45" fill="#0000ff"/>
<circle cx="175.12" cy="370.41" r="2.45" fill="#0000ff"/>
<circle cx="181.9" cy="368.19" r="2.45" fill="#0000ff"/>
<circle cx="188.67" cy="366.79" r="2.45" fill="#0000ff"/>
<circle cx="195.44" cy="359.34" r="2.45" fill="#0000ff"/>
<circle cx="202.21" cy="356.73" r="2.45" fill="#0000ff"/>
<circle cx="208.98" cy="354.31" r="2.45" fill="#0000ff"/>
<circle cx="215.75" cy="353.31" r="2.45" fill="#0000ff"/>
<circle cx="222.52" cy="348.68" r="2.45" fill="#0000ff"/>
<circle cx="229.28" cy="345.73" r="2.45" fill="#0000ff"/>
<circle cx="236.06" cy="343.72" r="2.45" fill="#0000ff"/>
<circle cx="242.83" cy="335.67" r="2.45" fill="#0000ff"/>
<circle cx="249.59" cy="332.65" r="2.45" fill="#0000ff"/>
<circle cx="256.37" cy="329.03" r="2.45" fill="#0000ff"/>
<circle cx="263.13" cy="322.59" r="2.45" fill="#0000ff"/>
<circle cx="269.9" cy="317.56" r="2.45" fill="#0000ff"/>
<circle cx="276.68" cy="313" r="2.45" fill="#0000ff"/>
<circle cx="283.45" cy="308.58" r="2.45" fill="#0000ff"/>
<circle cx="290.22" cy="305.16" r="2.45" fill="#0000ff"/>
<circle cx="296.99" cy="301.54" r="2.45" fill="#0000ff"/>
<circle cx="303.75" cy="291.48" r="2.45" fill="#0000ff"/>
<circle cx="310.52" cy="282.43" r="2.45" fill="#0000ff"/>
<circle cx="317.3" cy="271.83" r="2.45" fill="#0000ff"/>
<circle cx="324.07" cy="263.38" r="2.45" fill="#0000ff"/>
<circle cx="330.84" cy="261.37" r="2.45" fill="#0000ff"/>
<circle cx="337.61" cy="251.91" r="2.45" fill="#0000ff"/>
<circle cx="344.38" cy="253.92" r="2.45" fill="#0000ff"/>
<circle cx="351.15" cy="248.69" r="2.45" fill="#0000ff"/>
<circle cx="357.92" cy="230.65" r="2.45" fill="#0000ff"/>
<path d="M90.5 397.35v-3.6M90.5 223.1v3.6M104.04 397.35v-2.1M104.04 223.1v2.1M117.58 397.35v-2.1M117.58 223.1v2.1M131.12 397.35v-2.1M131.12 223.1v2.1M144.66 397.35v-2.1M144.66 223.1v2.1M158.2 397.35v-3.6M158.2 223.1v3.6M171.74 397.35v-2.1M171.74 223.1v2.1M185.28 397.35v-2.1M185.28 223.1v2.1M198.82 397.35v-2.1M198.82 223.1v2.1M212.36 397.35v-2.1M212.36 223.1v2.1M225.9 397.35v-3.6M225.9 223.1v3.6M239.44 397.35v-2.1M239.44 223.1v2.1M252.98 397.35v-2.1M252.98 223.1v2.1M266.52 397.35v-2.1M266.52 223.1v2.1M280.06 397.35v-2.1M280.06 223.1v2.1M293.6 397.35v-3.6M293.6 223.1v3.6M307.14 397.35v-2.1M307.14 223.1v2.1M320.68 397.35v-2.1M320.68 223.1v2.1M334.22 397.35v-2.1M334.22 223.1v2.1M347.76 397.35v-2.1M347.76 223.1v2.1M361.3 397.35v-3.6M361.3 223.1v3.6M85.05 390.79h2.1M367 390.79h-2.1M85.05 384.09h2.1M367 384.09h-2.1M85.05 377.38h2.1M367 377.38h-2.1M85.05 370.68h2.1M367 370.68h-2.1M85.05 363.97h3.6M367 363.97h-3.6M85.05 357.26h2.1M367 357.26h-2.1M85.05 350.56h2.1M367 350.56h-2.1M85.05 343.85h2.1M367 343.85h-2.1M85.05 337.15h2.1M367 337.15h-2.1M85.05 330.44h3.6M367 330.44h-3.6M85.05 323.73h2.1M367 323.73h-2.1M85.05 317.03h2.1M367 317.03h-2.1M85.05 310.32h2.1M367 310.32h-2.1M85.05 303.62h2.1M367 303.62h-2.1M85.05 296.91h3.6M367 296.91h-3.6M85.05 290.2h2.1M367 290.2h-2.1M85.05 283.5h2.1M367 283.5h-2.1M85.05 276.79h2.1M367 276.79h-2.1M85.05 270.09h2.1M367 270.09h-2.1M85.05 263.38h3.6M367 263.38h-3.6M85.05 256.67h2.1M367 256.67h-2.1M85.05 249.97h2.1M367 249.97h-2.1M85.05 243.26h2.1M367 243.26h-2.1M85.05 236.56h2.1M367 236.56h-2.1M85.05 229.85h3.6M367 229.85h-3.6M85.05 223.14h2.1M367 223.14h-2.1" stroke="#0c0c0c" stroke-width="0.95" fill="none"/>
<rect x="85.05" y="223.1" width="281.95" height="174.25" fill="none" stroke="#0c0c0c" stroke-width="1.15"/>
<text x="81.45" y="404" text-anchor="end">0.0</text>
<text x="81.45" y="370.47" text-anchor="end">0.5</text>
<text x="81.45" y="336.94" text-anchor="end">1.0</text>
<text x="81.45" y="303.41" text-anchor="end">1.5</text>
<text x="81.45" y="269.88" text-anchor="end">2.0</text>
<text x="81.45" y="236.35" text-anchor="end">2.5</text>
<text x="90.5" y="417.45" text-anchor="middle">0</text>
<text x="158.2" y="417.45" text-anchor="middle">10</text>
<text x="225.9" y="417.45" text-anchor="middle">20</text>
<text x="293.6" y="417.45" text-anchor="middle">30</text>
<text x="361.3" y="417.45" text-anchor="middle">40</text>
<path d="M466.05 271.8H736.95" stroke="#999" stroke-width="1"/>
<path d="M471.5 271.82L472.59 271.83L473.69 271.84L474.78 271.85L475.87 271.85L476.97 271.86L478.06 271.86L479.16 271.87L480.25 271.87L481.34 271.88L482.44 271.88L483.53 271.88L484.62 271.89L485.72 271.89L486.81 271.89L487.91 271.89L489 271.9L490.09 271.9L491.19 271.9L492.28 271.9L493.37 271.9L494.47 271.9L495.56 271.9L496.66 271.9L497.75 271.9L498.84 271.91L499.94 271.91L501.03 271.91L502.12 271.91L503.22 271.91L504.31 271.91L505.41 271.91L506.5 271.91L507.59 271.91L508.69 271.91L509.78 271.91L510.87 271.91L511.97 271.91L513.06 271.91L514.16 271.91L515.25 271.91L516.34 271.92L517.44 271.92L518.53 271.92L519.62 271.92L520.72 271.92L521.81 271.93L522.91 271.93L524 271.93L525.09 271.94L526.19 271.94L527.28 271.95L528.37 271.95L529.47 271.96L530.56 271.96L531.65 271.97L532.75 271.98L533.84 271.98L534.94 271.99L536.03 272L537.12 272.01L538.22 272.02L539.31 272.03L540.4 272.04L541.5 272.05L542.59 272.06L543.69 272.08L544.78 272.09L545.87 272.1L546.97 272.12L548.06 272.13L549.15 272.15L550.25 272.17L551.34 272.18L552.44 272.2L553.53 272.22L554.62 272.24L555.72 272.26L556.81 272.28L557.9 272.31L559 272.33L560.09 272.35L561.19 272.38L562.28 272.41L563.37 272.43L564.47 272.46L565.56 272.49L566.65 272.52L567.75 272.55L568.84 272.59L569.94 272.62L571.03 272.66L572.12 272.69L573.22 272.73L574.31 272.77L575.4 272.81L576.5 272.85L577.59 272.89L578.69 272.93L579.78 272.98L580.87 273.02L581.97 273.07L583.06 273.12L584.15 273.17L585.25 273.22L586.34 273.27L587.43 273.32L588.53 273.38L589.62 273.44L590.72 273.49L591.81 273.55L592.9 273.61L594 273.68L595.09 273.74L596.18 273.8L597.28 273.87L598.37 273.94L599.47 274.01L600.56 274.08L601.65 274.16L602.75 274.23L603.84 274.31L604.93 274.38L606.03 274.46L607.12 274.55L608.22 274.63L609.31 274.71L610.4 274.8L611.5 274.89L612.59 274.98L613.68 275.07L614.78 275.17L615.87 275.26L616.97 275.36L618.06 275.46L619.15 275.56L620.25 275.67L621.34 275.77L622.43 275.88L623.53 275.99L624.62 276.1L625.72 276.21L626.81 276.33L627.9 276.44L629 276.56L630.09 276.69L631.18 276.81L632.28 276.94L633.37 277.06L634.47 277.19L635.56 277.33L636.65 277.46L637.75 277.6L638.84 277.74L639.93 277.88L641.03 278.02L642.12 278.17L643.21 278.31L644.31 278.46L645.4 278.62L646.5 278.77L647.59 278.93L648.68 279.09L649.78 279.25L650.87 279.42L651.96 279.58L653.06 279.75L654.15 279.93L655.25 280.1L656.34 280.28L657.43 280.46L658.53 280.64L659.62 280.82L660.71 281.01L661.81 281.2L662.9 281.39L664 281.59L665.09 281.79L666.18 281.99L667.28 282.19L668.37 282.4L669.46 282.61L670.56 282.82L671.65 283.03L672.75 283.25L673.84 283.47L674.93 283.69L676.03 283.92L677.12 284.15L678.21 284.38L679.31 284.61L680.4 284.85L681.5 285.09L682.59 285.33L683.68 285.58L684.78 285.83L685.87 286.08L686.96 286.33L688.06 286.59L689.15 286.85L690.25 287.12L691.34 287.38L692.43 287.65L693.53 287.93L694.62 288.2L695.71 288.48L696.81 288.77L697.9 289.05L698.99 289.34L700.09 289.64L701.18 289.93L702.28 290.23L703.37 290.53L704.46 290.84L705.56 291.15L706.65 291.46L707.74 291.78L708.84 292.1L709.93 292.42L711.03 292.75L712.12 293.08L713.21 293.41L714.31 293.75L715.4 294.09L716.49 294.43L717.59 294.78L718.68 295.13L719.78 295.48L720.87 295.84L721.96 296.2L723.06 296.57L724.15 296.93L725.24 297.31L726.34 297.68L727.43 298.06L728.53 298.45L729.62 298.83L730.71 299.22L731.81 299.62L732.9 300.02" fill="none" stroke="#00a600" stroke-width="1.85" stroke-linejoin="round" stroke-dasharray="9.48 4.06" clip-path="url(#c4)"/>
<path d="M471.5 271.82L472.61 271.85L473.72 271.88L474.83 271.91L475.94 271.94L477.05 271.98L478.16 272.02L479.27 272.06L480.39 272.11L481.5 272.16L482.61 272.21L483.72 272.27L484.83 272.33L485.94 272.39L487.05 272.46L488.16 272.53L489.27 272.6L490.38 272.68L491.49 272.75L492.6 272.84L493.71 272.92L494.82 273.01L495.93 273.1L497.05 273.19L498.16 273.29L499.27 273.39L500.38 273.49L501.49 273.6L502.6 273.71L503.71 273.82L504.82 273.94L505.93 274.05L507.04 274.17L508.15 274.3L509.26 274.43L510.37 274.56L511.48 274.69L512.59 274.82L513.71 274.96L514.82 275.1L515.93 275.25L517.04 275.4L518.15 275.55L519.26 275.7L520.37 275.85L521.48 276.01L522.59 276.17L523.7 276.34L524.81 276.51L525.92 276.68L527.03 276.85L528.14 277.02L529.25 277.2L530.37 277.38L531.48 277.57L532.59 277.75L533.7 277.94L534.81 278.13L535.92 278.33L537.03 278.53L538.14 278.73L539.25 278.93L540.36 279.13L541.47 279.34L542.58 279.55L543.69 279.77L544.8 279.98L545.91 280.2L547.03 280.42L548.14 280.65L549.25 280.87L550.36 281.1L551.47 281.33L552.58 281.57L553.69 281.8L554.8 282.04L555.91 282.28L557.02 282.53L558.13 282.77L559.24 283.02L560.35 283.28L561.46 283.53L562.57 283.79L563.69 284.05L564.8 284.31L565.91 284.57L567.02 284.84L568.13 285.11L569.24 285.38L570.35 285.65L571.46 285.93L572.57 286.21L573.68 286.49L574.79 286.77L575.9 287.05L577.01 287.34L578.12 287.63L579.23 287.93L580.35 288.22L581.46 288.52L582.57 288.82L583.68 289.12L584.79 289.42L585.9 289.73L587.01 290.04L588.12 290.35L589.23 290.66L590.34 290.98L591.45 291.29L592.56 291.61L593.67 291.93L594.78 292.26L595.89 292.58L597.01 292.91L598.12 293.24L599.23 293.58L600.34 293.91L601.45 294.25L602.56 294.59L603.67 294.93L604.78 295.27L605.89 295.61L607 295.96L608.11 296.31L609.22 296.66L610.33 297.02L611.44 297.37L612.56 297.73L613.67 298.09L614.78 298.45L615.89 298.81L617 299.18L618.11 299.55L619.22 299.92L620.33 300.29L621.44 300.66L622.55 301.04L623.66 301.41L624.77 301.79L625.88 302.17L626.99 302.56L628.1 302.94L629.22 303.33L630.33 303.71L631.44 304.11L632.55 304.5L633.66 304.89L634.77 305.29L635.88 305.68L636.99 306.08L638.1 306.49L639.21 306.89L640.32 307.29L641.43 307.7L642.54 308.11L643.65 308.52L644.76 308.93L645.88 309.34L646.99 309.76L648.1 310.18L649.21 310.59L650.32 311.01L651.43 311.44L652.54 311.86L653.65 312.28L654.76 312.71L655.87 313.14L656.98 313.57L658.09 314L659.2 314.44L660.31 314.87L661.42 315.31L662.54 315.74L663.65 316.18L664.76 316.63L665.87 317.07L666.98 317.51L668.09 317.96L669.2 318.41L670.31 318.85L671.42 319.31L672.53 319.76L673.64 320.21L674.75 320.67L675.86 321.12L676.97 321.58L678.08 322.04L679.2 322.5L680.31 322.96L681.42 323.42L682.53 323.89L683.64 324.35L684.75 324.82L685.86 325.29L686.97 325.76L688.08 326.23L689.19 326.71L690.3 327.18L691.41 327.66L692.52 328.13L693.63 328.61L694.74 329.09L695.86 329.57L696.97 330.05L698.08 330.54L699.19 331.02L700.3 331.51L701.41 331.99L702.52 332.48L703.63 332.97L704.74 333.46L705.85 333.95L706.96 334.44L708.07 334.94L709.18 335.43L710.29 335.93L711.4 336.43L712.52 336.93L713.63 337.43L714.74 337.93L715.85 338.43L716.96 338.93L718.07 339.44L719.18 339.94L720.29 340.45L721.4 340.95L722.51 341.46L723.62 341.97L724.73 342.48L725.84 342.99L726.95 343.51L728.06 344.02L729.18 344.53L730.29 345.05L731.4 345.57L732.51 346.08L733.62 346.6L734.73 347.12L735.84 347.64L736.95 348.16" fill="none" stroke="#000" stroke-width="2.0" stroke-linejoin="round" stroke-dasharray="3.39 3.39" clip-path="url(#c4)"/>
<path d="M471.5 271.82L472.59 271.84L473.68 271.86L474.77 271.88L475.86 271.9L476.96 271.91L478.05 271.93L479.14 271.95L480.23 271.97L481.32 271.99L482.41 272.01L483.5 272.03L484.59 272.05L485.68 272.07L486.77 272.09L487.87 272.11L488.96 272.14L490.05 272.16L491.14 272.18L492.23 272.21L493.32 272.23L494.41 272.26L495.5 272.28L496.59 272.31L497.68 272.34L498.78 272.37L499.87 272.4L500.96 272.43L502.05 272.46L503.14 272.49L504.23 272.52L505.32 272.55L506.41 272.59L507.5 272.62L508.59 272.66L509.69 272.7L510.78 272.74L511.87 272.78L512.96 272.82L514.05 272.86L515.14 272.9L516.23 272.94L517.32 272.99L518.41 273.04L519.5 273.08L520.6 273.13L521.69 273.18L522.78 273.23L523.87 273.29L524.96 273.34L526.05 273.39L527.14 273.45L528.23 273.51L529.32 273.57L530.41 273.63L531.51 273.69L532.6 273.75L533.69 273.82L534.78 273.89L535.87 273.95L536.96 274.02L538.05 274.09L539.14 274.17L540.23 274.24L541.32 274.32L542.42 274.39L543.51 274.47L544.6 274.55L545.69 274.64L546.78 274.72L547.87 274.81L548.96 274.89L550.05 274.98L551.14 275.07L552.23 275.16L553.33 275.26L554.42 275.35L555.51 275.45L556.6 275.55L557.69 275.65L558.78 275.76L559.87 275.86L560.96 275.97L562.05 276.08L563.14 276.19L564.24 276.3L565.33 276.41L566.42 276.53L567.51 276.65L568.6 276.77L569.69 276.89L570.78 277.01L571.87 277.14L572.96 277.26L574.05 277.39L575.15 277.52L576.24 277.66L577.33 277.79L578.42 277.93L579.51 278.07L580.6 278.21L581.69 278.35L582.78 278.5L583.87 278.64L584.96 278.79L586.06 278.94L587.15 279.1L588.24 279.25L589.33 279.41L590.42 279.57L591.51 279.73L592.6 279.89L593.69 280.06L594.78 280.23L595.87 280.4L596.97 280.57L598.06 280.74L599.15 280.92L600.24 281.09L601.33 281.27L602.42 281.45L603.51 281.64L604.6 281.82L605.69 282.01L606.78 282.2L607.88 282.39L608.97 282.59L610.06 282.79L611.15 282.98L612.24 283.18L613.33 283.39L614.42 283.59L615.51 283.8L616.6 284.01L617.69 284.22L618.79 284.43L619.88 284.65L620.97 284.86L622.06 285.08L623.15 285.3L624.24 285.53L625.33 285.75L626.42 285.98L627.51 286.21L628.6 286.44L629.7 286.67L630.79 286.91L631.88 287.14L632.97 287.38L634.06 287.63L635.15 287.87L636.24 288.11L637.33 288.36L638.42 288.61L639.51 288.86L640.61 289.12L641.7 289.37L642.79 289.63L643.88 289.89L644.97 290.15L646.06 290.41L647.15 290.68L648.24 290.94L649.33 291.21L650.42 291.48L651.52 291.76L652.61 292.03L653.7 292.31L654.79 292.58L655.88 292.86L656.97 293.15L658.06 293.43L659.15 293.72L660.24 294L661.33 294.29L662.43 294.58L663.52 294.87L664.61 295.17L665.7 295.47L666.79 295.76L667.88 296.06L668.97 296.36L670.06 296.67L671.15 296.97L672.24 297.28L673.34 297.59L674.43 297.9L675.52 298.21L676.61 298.52L677.7 298.83L678.79 299.15L679.88 299.47L680.97 299.79L682.06 300.11L683.16 300.43L684.25 300.75L685.34 301.08L686.43 301.4L687.52 301.73L688.61 302.06L689.7 302.39L690.79 302.72L691.88 303.05L692.97 303.39L694.07 303.73L695.16 304.06L696.25 304.4L697.34 304.74L698.43 305.08L699.52 305.42L700.61 305.77L701.7 306.11L702.79 306.46L703.88 306.8L704.98 307.15L706.07 307.5L707.16 307.85L708.25 308.2L709.34 308.55L710.43 308.91L711.52 309.26L712.61 309.62L713.7 309.97L714.79 310.33L715.89 310.69L716.98 311.04L718.07 311.4L719.16 311.76L720.25 312.12L721.34 312.49L722.43 312.85L723.52 313.21L724.61 313.58L725.7 313.94L726.8 314.3L727.89 314.67L728.98 315.04L730.07 315.4L731.16 315.77L732.25 316.14" fill="none" stroke="#ff0000" stroke-width="1.85" stroke-linejoin="round" clip-path="url(#c4)"/>
<path d="M552.78 267.89V275.09M550.78 267.89h4M550.78 275.09h4M559.28 267.81V281.19M557.28 267.81h4M557.28 281.19h4M565.79 264.88V272.08M563.79 264.88h4M563.79 272.08h4M572.29 268.65V281.53M570.29 268.65h4M570.29 281.53h4M578.79 264.3V275.51M576.79 264.3h4M576.79 275.51h4M585.29 259.03V283.12M583.29 259.03h4M583.29 283.12h4M591.8 267.39V272.41M589.8 267.39h4M589.8 272.41h4M598.3 268.98V281.36M596.3 268.98h4M596.3 281.36h4M604.8 273.41V277.6M602.8 273.41h4M602.8 277.6h4M611.3 267.48V275M609.3 267.48h4M609.3 275h4M617.81 267.73V276.93M615.81 267.73h4M615.81 276.93h4M624.31 269.4V282.78M622.31 269.4h4M622.31 282.78h4M630.81 265.55V276.09M628.81 265.55h4M628.81 276.09h4M637.31 268.23V287.3M635.31 268.23h4M635.31 287.3h4M643.82 262.62V277.68M641.82 262.62h4M641.82 277.68h4M650.32 263.96V280.69M648.32 263.96h4M648.32 280.69h4M656.82 264.05V283.12M654.82 264.05h4M654.82 283.12h4M663.32 269.15V285.21M661.32 269.15h4M661.32 285.21h4M669.83 273.58V292.65M667.83 273.58h4M667.83 292.65h4M676.33 269.73V282.45M674.33 269.73h4M674.33 282.45h4M682.83 275.67V288.39M680.83 275.67h4M680.83 288.39h4M689.33 273.58V289.64M687.33 273.58h4M687.33 289.64h4M695.84 278.02V294.08M693.84 278.02h4M693.84 294.08h4M702.34 265.22V286.97M700.34 265.22h4M700.34 286.97h4M708.84 276.84V301.94M706.84 276.84h4M706.84 301.94h4M715.34 272.91V299.18M713.34 272.91h4M713.34 299.18h4M721.85 261.87V290.31M719.85 261.87h4M719.85 290.31h4M728.35 290.23V320.34M726.35 290.23h4M726.35 320.34h4" fill="none" stroke="#2424ff" stroke-width="1.15" clip-path="url(#c4)"/>
<circle cx="474.75" cy="272.33" r="2.45" fill="#0000ff"/>
<circle cx="481.25" cy="270.9" r="2.45" fill="#0000ff"/>
<circle cx="487.76" cy="270.32" r="2.45" fill="#0000ff"/>
<circle cx="494.26" cy="273.08" r="2.45" fill="#0000ff"/>
<circle cx="500.76" cy="271.49" r="2.45" fill="#0000ff"/>
<circle cx="507.26" cy="270.74" r="2.45" fill="#0000ff"/>
<circle cx="513.77" cy="270.9" r="2.45" fill="#0000ff"/>
<circle cx="520.27" cy="268.9" r="2.45" fill="#0000ff"/>
<circle cx="526.77" cy="270.32" r="2.45" fill="#0000ff"/>
<circle cx="533.27" cy="269.06" r="2.45" fill="#0000ff"/>
<circle cx="539.78" cy="269.48" r="2.45" fill="#0000ff"/>
<circle cx="546.28" cy="270.32" r="2.45" fill="#0000ff"/>
<circle cx="552.78" cy="271.49" r="2.45" fill="#0000ff"/>
<circle cx="559.28" cy="274.5" r="2.45" fill="#0000ff"/>
<circle cx="565.79" cy="268.48" r="2.45" fill="#0000ff"/>
<circle cx="572.29" cy="275.09" r="2.45" fill="#0000ff"/>
<circle cx="578.79" cy="269.9" r="2.45" fill="#0000ff"/>
<circle cx="585.29" cy="271.07" r="2.45" fill="#0000ff"/>
<circle cx="591.8" cy="269.9" r="2.45" fill="#0000ff"/>
<circle cx="598.3" cy="275.17" r="2.45" fill="#0000ff"/>
<circle cx="604.8" cy="275.51" r="2.45" fill="#0000ff"/>
<circle cx="611.3" cy="271.24" r="2.45" fill="#0000ff"/>
<circle cx="617.81" cy="272.33" r="2.45" fill="#0000ff"/>
<circle cx="624.31" cy="276.09" r="2.45" fill="#0000ff"/>
<circle cx="630.81" cy="270.82" r="2.45" fill="#0000ff"/>
<circle cx="637.31" cy="277.76" r="2.45" fill="#0000ff"/>
<circle cx="643.82" cy="270.15" r="2.45" fill="#0000ff"/>
<circle cx="650.32" cy="272.33" r="2.45" fill="#0000ff"/>
<circle cx="656.82" cy="273.58" r="2.45" fill="#0000ff"/>
<circle cx="663.32" cy="277.18" r="2.45" fill="#0000ff"/>
<circle cx="669.83" cy="283.12" r="2.45" fill="#0000ff"/>
<circle cx="676.33" cy="276.09" r="2.45" fill="#0000ff"/>
<circle cx="682.83" cy="282.03" r="2.45" fill="#0000ff"/>
<circle cx="689.33" cy="281.61" r="2.45" fill="#0000ff"/>
<circle cx="695.84" cy="286.05" r="2.45" fill="#0000ff"/>
<circle cx="702.34" cy="276.09" r="2.45" fill="#0000ff"/>
<circle cx="708.84" cy="289.39" r="2.45" fill="#0000ff"/>
<circle cx="715.34" cy="286.05" r="2.45" fill="#0000ff"/>
<circle cx="721.85" cy="276.09" r="2.45" fill="#0000ff"/>
<circle cx="728.35" cy="305.29" r="2.45" fill="#0000ff"/>
<path d="M471.5 397.3v-3.6M471.5 229.9v3.6M484.5 397.3v-2.1M484.5 229.9v2.1M497.51 397.3v-2.1M497.51 229.9v2.1M510.51 397.3v-2.1M510.51 229.9v2.1M523.52 397.3v-2.1M523.52 229.9v2.1M536.52 397.3v-3.6M536.52 229.9v3.6M549.53 397.3v-2.1M549.53 229.9v2.1M562.53 397.3v-2.1M562.53 229.9v2.1M575.54 397.3v-2.1M575.54 229.9v2.1M588.54 397.3v-2.1M588.54 229.9v2.1M601.55 397.3v-3.6M601.55 229.9v3.6M614.56 397.3v-2.1M614.56 229.9v2.1M627.56 397.3v-2.1M627.56 229.9v2.1M640.57 397.3v-2.1M640.57 229.9v2.1M653.57 397.3v-2.1M653.57 229.9v2.1M666.58 397.3v-3.6M666.58 229.9v3.6M679.58 397.3v-2.1M679.58 229.9v2.1M692.59 397.3v-2.1M692.59 229.9v2.1M705.59 397.3v-2.1M705.59 229.9v2.1M718.6 397.3v-2.1M718.6 229.9v2.1M731.6 397.3v-3.6M731.6 229.9v3.6M466.05 397.3h3.6M736.95 397.3h-3.6M466.05 388.94h2.1M736.95 388.94h-2.1M466.05 380.57h2.1M736.95 380.57h-2.1M466.05 372.21h2.1M736.95 372.21h-2.1M466.05 363.84h2.1M736.95 363.84h-2.1M466.05 355.48h3.6M736.95 355.48h-3.6M466.05 347.11h2.1M736.95 347.11h-2.1M466.05 338.75h2.1M736.95 338.75h-2.1M466.05 330.38h2.1M736.95 330.38h-2.1M466.05 322.01h2.1M736.95 322.01h-2.1M466.05 313.65h3.6M736.95 313.65h-3.6M466.05 305.29h2.1M736.95 305.29h-2.1M466.05 296.92h2.1M736.95 296.92h-2.1M466.05 288.56h2.1M736.95 288.56h-2.1M466.05 280.19h2.1M736.95 280.19h-2.1M466.05 271.82h3.6M736.95 271.82h-3.6M466.05 263.46h2.1M736.95 263.46h-2.1M466.05 255.09h2.1M736.95 255.09h-2.1M466.05 246.73h2.1M736.95 246.73h-2.1M466.05 238.37h2.1M736.95 238.37h-2.1M466.05 230h3.6M736.95 230h-3.6" stroke="#0c0c0c" stroke-width="0.95" fill="none"/>
<rect x="466.05" y="229.9" width="270.9" height="167.4" fill="none" stroke="#0c0c0c" stroke-width="1.15"/>
<text x="462.45" y="236.5" text-anchor="end">0.5</text>
<text x="462.45" y="278.32" text-anchor="end">0.0</text>
<text x="462.45" y="320.15" text-anchor="end">0.5</text>
<text x="462.45" y="361.98" text-anchor="end">1.0</text>
<text x="462.45" y="403.8" text-anchor="end">1.5</text>
<path d="M428.05 314.65h9.9M428.05 356.48h9.9M428.05 398.3h9.9" stroke="#111" stroke-width="0.95" fill="none"/>
<text x="471.5" y="417.4" text-anchor="middle">0</text>
<text x="536.52" y="417.4" text-anchor="middle">10</text>
<text x="601.55" y="417.4" text-anchor="middle">20</text>
<text x="666.58" y="417.4" text-anchor="middle">30</text>
<text x="731.6" y="417.4" text-anchor="middle">40</text>
<path d="M99 442.33L100.12 442.92L101.24 443.5L102.36 444.08L103.48 444.66L104.59 445.24L105.71 445.82L106.83 446.39L107.95 446.97L109.07 447.54L110.19 448.11L111.31 448.68L112.43 449.25L113.55 449.82L114.67 450.38L115.79 450.94L116.91 451.5L118.03 452.06L119.15 452.62L120.27 453.17L121.39 453.73L122.51 454.28L123.63 454.83L124.74 455.38L125.86 455.92L126.98 456.46L128.1 457.01L129.22 457.55L130.34 458.08L131.46 458.62L132.58 459.15L133.7 459.68L134.82 460.21L135.94 460.74L137.06 461.26L138.18 461.79L139.3 462.31L140.42 462.82L141.54 463.34L142.66 463.85L143.78 464.36L144.9 464.87L146.01 465.38L147.13 465.89L148.25 466.39L149.37 466.89L150.49 467.38L151.61 467.88L152.73 468.37L153.85 468.86L154.97 469.35L156.09 469.84L157.21 470.32L158.33 470.8L159.45 471.28L160.57 471.76L161.69 472.23L162.81 472.7L163.93 473.17L165.05 473.63L166.17 474.1L167.28 474.56L168.4 475.02L169.52 475.47L170.64 475.93L171.76 476.38L172.88 476.83L174 477.27L175.12 477.72L176.24 478.16L177.36 478.6L178.48 479.03L179.6 479.47L180.72 479.9L181.84 480.32L182.96 480.75L184.08 481.17L185.2 481.59L186.32 482.01L187.44 482.43L188.55 482.84L189.67 483.25L190.79 483.66L191.91 484.06L193.03 484.46L194.15 484.86L195.27 485.26L196.39 485.66L197.51 486.05L198.63 486.44L199.75 486.82L200.87 487.21L201.99 487.59L203.11 487.97L204.23 488.35L205.35 488.72L206.47 489.09L207.59 489.46L208.71 489.83L209.82 490.19L210.94 490.55L212.06 490.91L213.18 491.27L214.3 491.62L215.42 491.97L216.54 492.32L217.66 492.67L218.78 493.01L219.9 493.35L221.02 493.69L222.14 494.03L223.26 494.36L224.38 494.69L225.5 495.02L226.62 495.35L227.74 495.67L228.86 496L229.97 496.31L231.09 496.63L232.21 496.95L233.33 497.26L234.45 497.57L235.57 497.88L236.69 498.18L237.81 498.48L238.93 498.78L240.05 499.08L241.17 499.38L242.29 499.67L243.41 499.96L244.53 500.25L245.65 500.54L246.77 500.83L247.89 501.11L249.01 501.39L250.13 501.67L251.24 501.94L252.36 502.22L253.48 502.49L254.6 502.76L255.72 503.03L256.84 503.3L257.96 503.56L259.08 503.82L260.2 504.08L261.32 504.34L262.44 504.6L263.56 504.85L264.68 505.1L265.8 505.35L266.92 505.6L268.04 505.85L269.16 506.09L270.28 506.34L271.4 506.58L272.51 506.82L273.63 507.06L274.75 507.29L275.87 507.53L276.99 507.76L278.11 507.99L279.23 508.22L280.35 508.45L281.47 508.68L282.59 508.9L283.71 509.13L284.83 509.35L285.95 509.57L287.07 509.79L288.19 510.01L289.31 510.22L290.43 510.44L291.55 510.65L292.67 510.87L293.78 511.08L294.9 511.29L296.02 511.5L297.14 511.71L298.26 511.92L299.38 512.12L300.5 512.33L301.62 512.53L302.74 512.74L303.86 512.94L304.98 513.14L306.1 513.34L307.22 513.54L308.34 513.74L309.46 513.94L310.58 514.14L311.7 514.33L312.82 514.53L313.94 514.72L315.05 514.92L316.17 515.11L317.29 515.31L318.41 515.5L319.53 515.69L320.65 515.89L321.77 516.08L322.89 516.27L324.01 516.46L325.13 516.66L326.25 516.85L327.37 517.04L328.49 517.23L329.61 517.42L330.73 517.61L331.85 517.8L332.97 517.99L334.09 518.19L335.2 518.38L336.32 518.57L337.44 518.76L338.56 518.95L339.68 519.15L340.8 519.34L341.92 519.53L343.04 519.73L344.16 519.92L345.28 520.11L346.4 520.31L347.52 520.51L348.64 520.7L349.76 520.9L350.88 521.1L352 521.3L353.12 521.5L354.24 521.7L355.36 521.9L356.47 522.1L357.59 522.31L358.71 522.51L359.83 522.72L360.95 522.93L362.07 523.13L363.19 523.34L364.31 523.56L365.43 523.77L366.55 523.98" fill="none" stroke="#000" stroke-width="2.0" stroke-linejoin="round" stroke-dasharray="3.39 3.39" clip-path="url(#c5)"/>
<path d="M100.95 443.35L102.04 444.06L103.14 444.77L104.23 445.47L105.33 446.17L106.42 446.86L107.52 447.55L108.61 448.24L109.71 448.92L110.8 449.6L111.9 450.28L112.99 450.95L114.09 451.61L115.18 452.28L116.28 452.94L117.37 453.6L118.47 454.25L119.56 454.9L120.66 455.55L121.75 456.19L122.85 456.83L123.94 457.46L125.04 458.1L126.13 458.73L127.23 459.35L128.32 459.97L129.42 460.59L130.51 461.21L131.61 461.83L132.7 462.44L133.8 463.04L134.89 463.65L135.99 464.25L137.08 464.85L138.18 465.44L139.27 466.04L140.37 466.63L141.46 467.21L142.56 467.8L143.65 468.38L144.75 468.96L145.84 469.54L146.94 470.11L148.03 470.68L149.13 471.25L150.22 471.82L151.32 472.38L152.41 472.94L153.51 473.5L154.6 474.06L155.7 474.61L156.79 475.16L157.88 475.71L158.98 476.26L160.07 476.81L161.17 477.35L162.26 477.89L163.36 478.43L164.45 478.97L165.55 479.5L166.64 480.03L167.74 480.56L168.83 481.09L169.93 481.62L171.02 482.14L172.12 482.67L173.21 483.19L174.31 483.71L175.4 484.22L176.5 484.74L177.59 485.25L178.69 485.77L179.78 486.28L180.88 486.79L181.97 487.29L183.07 487.8L184.16 488.3L185.26 488.8L186.35 489.3L187.45 489.8L188.54 490.3L189.64 490.8L190.73 491.29L191.83 491.79L192.92 492.28L194.02 492.77L195.11 493.26L196.21 493.75L197.3 494.23L198.4 494.72L199.49 495.2L200.59 495.69L201.68 496.17L202.78 496.65L203.87 497.13L204.97 497.61L206.06 498.08L207.16 498.56L208.25 499.03L209.35 499.51L210.44 499.98L211.54 500.45L212.63 500.92L213.73 501.39L214.82 501.86L215.91 502.33L217.01 502.8L218.1 503.26L219.2 503.73L220.29 504.19L221.39 504.66L222.48 505.12L223.58 505.58L224.67 506.04L225.77 506.5L226.86 506.96L227.96 507.42L229.05 507.88L230.15 508.34L231.24 508.8L232.34 509.25L233.43 509.71L234.53 510.16L235.62 510.62L236.72 511.07L237.81 511.53L238.91 511.98L240 512.43L241.1 512.88L242.19 513.34L243.29 513.79L244.38 514.24L245.48 514.69L246.57 515.14L247.67 515.59L248.76 516.03L249.86 516.48L250.95 516.93L252.05 517.38L253.14 517.83L254.24 518.27L255.33 518.72L256.43 519.16L257.52 519.61L258.62 520.06L259.71 520.5L260.81 520.95L261.9 521.39L263 521.83L264.09 522.28L265.19 522.72L266.28 523.17L267.38 523.61L268.47 524.05L269.57 524.5L270.66 524.94L271.75 525.38L272.85 525.82L273.94 526.27L275.04 526.71L276.13 527.15L277.23 527.59L278.32 528.03L279.42 528.48L280.51 528.92L281.61 529.36L282.7 529.8L283.8 530.24L284.89 530.68L285.99 531.12L287.08 531.56L288.18 532.01L289.27 532.45L290.37 532.89L291.46 533.33L292.56 533.77L293.65 534.21L294.75 534.65L295.84 535.09L296.94 535.53L298.03 535.97L299.13 536.41L300.22 536.85L301.32 537.29L302.41 537.73L303.51 538.17L304.6 538.61L305.7 539.05L306.79 539.49L307.89 539.94L308.98 540.38L310.08 540.82L311.17 541.26L312.27 541.7L313.36 542.14L314.46 542.58L315.55 543.02L316.65 543.46L317.74 543.9L318.84 544.34L319.93 544.78L321.03 545.22L322.12 545.66L323.22 546.1L324.31 546.54L325.41 546.98L326.5 547.43L327.59 547.87L328.69 548.31L329.78 548.75L330.88 549.19L331.97 549.63L333.07 550.07L334.16 550.51L335.26 550.95L336.35 551.39L337.45 551.83L338.54 552.27L339.64 552.71L340.73 553.15L341.83 553.59L342.92 554.03L344.02 554.48L345.11 554.92L346.21 555.36L347.3 555.8L348.4 556.24L349.49 556.68L350.59 557.12L351.68 557.56L352.78 558L353.87 558.44L354.97 558.88L356.06 559.32L357.16 559.76L358.25 560.19L359.35 560.63L360.44 561.07L361.54 561.51L362.63 561.95" fill="none" stroke="#00a600" stroke-width="1.85" stroke-linejoin="round" stroke-dasharray="9.49 4.07" clip-path="url(#c5)"/>
<path d="M100.95 443.35L102.04 444.08L103.13 444.81L104.23 445.53L105.32 446.25L106.41 446.96L107.5 447.67L108.6 448.37L109.69 449.07L110.78 449.76L111.87 450.45L112.96 451.14L114.06 451.82L115.15 452.5L116.24 453.17L117.33 453.84L118.42 454.5L119.52 455.16L120.61 455.82L121.7 456.47L122.79 457.12L123.89 457.77L124.98 458.41L126.07 459.05L127.16 459.68L128.25 460.31L129.35 460.94L130.44 461.56L131.53 462.18L132.62 462.8L133.72 463.41L134.81 464.02L135.9 464.63L136.99 465.24L138.08 465.84L139.18 466.43L140.27 467.03L141.36 467.62L142.45 468.21L143.55 468.79L144.64 469.38L145.73 469.96L146.82 470.53L147.91 471.11L149.01 471.68L150.1 472.25L151.19 472.81L152.28 473.38L153.37 473.94L154.47 474.5L155.56 475.05L156.65 475.61L157.74 476.16L158.84 476.71L159.93 477.25L161.02 477.8L162.11 478.34L163.2 478.88L164.3 479.42L165.39 479.95L166.48 480.49L167.57 481.02L168.67 481.55L169.76 482.08L170.85 482.6L171.94 483.13L173.03 483.65L174.13 484.17L175.22 484.69L176.31 485.2L177.4 485.72L178.49 486.23L179.59 486.74L180.68 487.25L181.77 487.76L182.86 488.27L183.96 488.78L185.05 489.28L186.14 489.78L187.23 490.28L188.32 490.78L189.42 491.28L190.51 491.78L191.6 492.27L192.69 492.77L193.79 493.26L194.88 493.75L195.97 494.24L197.06 494.73L198.15 495.22L199.25 495.71L200.34 496.19L201.43 496.68L202.52 497.16L203.61 497.65L204.71 498.13L205.8 498.61L206.89 499.09L207.98 499.57L209.08 500.05L210.17 500.52L211.26 501L212.35 501.48L213.44 501.95L214.54 502.43L215.63 502.9L216.72 503.37L217.81 503.84L218.91 504.32L220 504.79L221.09 505.26L222.18 505.73L223.27 506.2L224.37 506.66L225.46 507.13L226.55 507.6L227.64 508.07L228.74 508.53L229.83 509L230.92 509.46L232.01 509.93L233.1 510.39L234.2 510.86L235.29 511.32L236.38 511.78L237.47 512.24L238.56 512.71L239.66 513.17L240.75 513.63L241.84 514.09L242.93 514.55L244.03 515.01L245.12 515.47L246.21 515.93L247.3 516.39L248.39 516.85L249.49 517.31L250.58 517.77L251.67 518.23L252.76 518.69L253.86 519.15L254.95 519.61L256.04 520.07L257.13 520.52L258.22 520.98L259.32 521.44L260.41 521.9L261.5 522.35L262.59 522.81L263.68 523.27L264.78 523.73L265.87 524.18L266.96 524.64L268.05 525.1L269.15 525.55L270.24 526.01L271.33 526.47L272.42 526.92L273.51 527.38L274.61 527.84L275.7 528.29L276.79 528.75L277.88 529.2L278.98 529.66L280.07 530.12L281.16 530.57L282.25 531.03L283.34 531.48L284.44 531.94L285.53 532.39L286.62 532.85L287.71 533.31L288.8 533.76L289.9 534.22L290.99 534.67L292.08 535.13L293.17 535.58L294.27 536.04L295.36 536.49L296.45 536.95L297.54 537.4L298.63 537.86L299.73 538.31L300.82 538.77L301.91 539.22L303 539.68L304.1 540.13L305.19 540.58L306.28 541.04L307.37 541.49L308.46 541.95L309.56 542.4L310.65 542.85L311.74 543.31L312.83 543.76L313.93 544.21L315.02 544.67L316.11 545.12L317.2 545.57L318.29 546.02L319.39 546.48L320.48 546.93L321.57 547.38L322.66 547.83L323.75 548.28L324.85 548.73L325.94 549.18L327.03 549.63L328.12 550.08L329.22 550.53L330.31 550.98L331.4 551.43L332.49 551.88L333.58 552.32L334.68 552.77L335.77 553.22L336.86 553.66L337.95 554.11L339.05 554.56L340.14 555L341.23 555.45L342.32 555.89L343.41 556.33L344.51 556.78L345.6 557.22L346.69 557.66L347.78 558.1L348.87 558.54L349.97 558.98L351.06 559.42L352.15 559.86L353.24 560.3L354.34 560.73L355.43 561.17L356.52 561.6L357.61 562.04L358.7 562.47L359.8 562.9L360.89 563.34L361.98 563.77" fill="none" stroke="#ff0000" stroke-width="1.85" stroke-linejoin="round" clip-path="url(#c5)"/>
<path d="M123.73 451.73V457.88M121.73 451.73h4M121.73 457.88h4M136.75 462.07V465.42M134.75 462.07h4M134.75 465.42h4M149.77 467.66V472.69M147.77 467.66h4M147.77 472.69h4M156.28 472.41V475.2M154.28 472.41h4M154.28 475.2h4M162.79 476.04V478.84M160.79 476.04h4M160.79 478.84h4M169.3 480.23V484.7M167.3 480.23h4M167.3 484.7h4M175.81 479.39V485.54M173.81 479.39h4M173.81 485.54h4M182.32 480.51V490.57M180.32 480.51h4M180.32 490.57h4M188.83 471.85V491.97M186.83 471.85h4M186.83 491.97h4M195.34 481.91V493.09M193.34 481.91h4M193.34 493.09h4M201.85 485.82V504.82M199.85 485.82h4M199.85 504.82h4M208.36 491.97V509.85M206.36 491.97h4M206.36 509.85h4M214.87 479.12V517.12M212.87 479.12h4M212.87 517.12h4M221.38 493.65V503.7M219.38 493.65h4M219.38 503.7h4M227.89 490.01V510.13M225.89 490.01h4M225.89 510.13h4M234.39 498.12V505.38M232.39 498.12h4M232.39 505.38h4M240.9 505.1V517.4M238.9 505.1h4M238.9 517.4h4M247.41 511.25V525.78M245.41 511.25h4M245.41 525.78h4M253.92 499.51V520.19M251.92 499.51h4M251.92 520.19h4M260.43 507.06V522.7M258.43 507.06h4M258.43 522.7h4M266.94 498.95V526.9M264.94 498.95h4M264.94 526.9h4M273.45 521.31V543.1M271.45 521.31h4M271.45 543.1h4M279.96 522.98V546.45M277.96 522.98h4M277.96 546.45h4M286.47 522.15V548.97M284.47 522.15h4M284.47 548.97h4M292.98 522.15V544.5M290.98 522.15h4M290.98 544.5h4M299.49 519.63V544.22M297.49 519.63h4M297.49 544.22h4M306 537.23V555.68M304 537.23h4M304 555.68h4M312.51 552.74V570.07M310.51 552.74h4M310.51 570.07h4M319.02 546.45V568.81M317.02 546.45h4M317.02 568.81h4M325.53 563.11V585.46M323.53 563.11h4M323.53 585.46h4M332.04 558.19V588.93M330.04 558.19h4M330.04 588.93h4M338.55 555.68V590.32M336.55 555.68h4M336.55 590.32h4M345.06 554.56V591.44M343.06 554.56h4M343.06 591.44h4M351.57 556.23V596.47M349.57 556.23h4M349.57 596.47h4M358.08 537.79V578.03M356.08 537.79h4M356.08 578.03h4" fill="none" stroke="#2424ff" stroke-width="1.15" clip-path="url(#c5)"/>
<circle cx="104.2" cy="446.7" r="2.45" fill="#0000ff"/>
<circle cx="110.71" cy="450.61" r="2.45" fill="#0000ff"/>
<circle cx="117.22" cy="453.41" r="2.45" fill="#0000ff"/>
<circle cx="123.73" cy="454.81" r="2.45" fill="#0000ff"/>
<circle cx="130.24" cy="458.72" r="2.45" fill="#0000ff"/>
<circle cx="136.75" cy="463.75" r="2.45" fill="#0000ff"/>
<circle cx="143.26" cy="465.14" r="2.45" fill="#0000ff"/>
<circle cx="149.77" cy="470.17" r="2.45" fill="#0000ff"/>
<circle cx="156.28" cy="473.81" r="2.45" fill="#0000ff"/>
<circle cx="162.79" cy="477.44" r="2.45" fill="#0000ff"/>
<circle cx="169.3" cy="482.47" r="2.45" fill="#0000ff"/>
<circle cx="175.81" cy="482.47" r="2.45" fill="#0000ff"/>
<circle cx="182.32" cy="485.54" r="2.45" fill="#0000ff"/>
<circle cx="188.83" cy="481.91" r="2.45" fill="#0000ff"/>
<circle cx="195.34" cy="487.5" r="2.45" fill="#0000ff"/>
<circle cx="201.85" cy="495.32" r="2.45" fill="#0000ff"/>
<circle cx="208.36" cy="500.91" r="2.45" fill="#0000ff"/>
<circle cx="214.87" cy="498.12" r="2.45" fill="#0000ff"/>
<circle cx="221.38" cy="498.67" r="2.45" fill="#0000ff"/>
<circle cx="227.89" cy="500.07" r="2.45" fill="#0000ff"/>
<circle cx="234.39" cy="501.75" r="2.45" fill="#0000ff"/>
<circle cx="240.9" cy="511.25" r="2.45" fill="#0000ff"/>
<circle cx="247.41" cy="518.51" r="2.45" fill="#0000ff"/>
<circle cx="253.92" cy="509.85" r="2.45" fill="#0000ff"/>
<circle cx="260.43" cy="514.88" r="2.45" fill="#0000ff"/>
<circle cx="266.94" cy="512.92" r="2.45" fill="#0000ff"/>
<circle cx="273.45" cy="532.2" r="2.45" fill="#0000ff"/>
<circle cx="279.96" cy="534.72" r="2.45" fill="#0000ff"/>
<circle cx="286.47" cy="535.56" r="2.45" fill="#0000ff"/>
<circle cx="292.98" cy="533.32" r="2.45" fill="#0000ff"/>
<circle cx="299.49" cy="531.93" r="2.45" fill="#0000ff"/>
<circle cx="306" cy="546.45" r="2.45" fill="#0000ff"/>
<circle cx="312.51" cy="561.4" r="2.45" fill="#0000ff"/>
<circle cx="319.02" cy="557.63" r="2.45" fill="#0000ff"/>
<circle cx="325.53" cy="574.28" r="2.45" fill="#0000ff"/>
<circle cx="332.04" cy="573.56" r="2.45" fill="#0000ff"/>
<circle cx="338.55" cy="573" r="2.45" fill="#0000ff"/>
<circle cx="345.06" cy="573" r="2.45" fill="#0000ff"/>
<circle cx="351.57" cy="576.35" r="2.45" fill="#0000ff"/>
<circle cx="358.08" cy="557.91" r="2.45" fill="#0000ff"/>
<path d="M100.95 610.9v-3.6M100.95 443.4v3.6M113.97 610.9v-2.1M113.97 443.4v2.1M126.99 610.9v-2.1M126.99 443.4v2.1M140.01 610.9v-2.1M140.01 443.4v2.1M153.03 610.9v-2.1M153.03 443.4v2.1M166.05 610.9v-3.6M166.05 443.4v3.6M179.06 610.9v-2.1M179.06 443.4v2.1M192.08 610.9v-2.1M192.08 443.4v2.1M205.1 610.9v-2.1M205.1 443.4v2.1M218.12 610.9v-2.1M218.12 443.4v2.1M231.14 610.9v-3.6M231.14 443.4v3.6M244.16 610.9v-2.1M244.16 443.4v2.1M257.18 610.9v-2.1M257.18 443.4v2.1M270.2 610.9v-2.1M270.2 443.4v2.1M283.22 610.9v-2.1M283.22 443.4v2.1M296.24 610.9v-3.6M296.24 443.4v3.6M309.25 610.9v-2.1M309.25 443.4v2.1M322.27 610.9v-2.1M322.27 443.4v2.1M335.29 610.9v-2.1M335.29 443.4v2.1M348.31 610.9v-2.1M348.31 443.4v2.1M361.33 610.9v-3.6M361.33 443.4v3.6M95.5 605.41h2.1M366.55 605.41h-2.1M95.5 599.82h2.1M366.55 599.82h-2.1M95.5 594.24h2.1M366.55 594.24h-2.1M95.5 588.65h2.1M366.55 588.65h-2.1M95.5 583.06h3.6M366.55 583.06h-3.6M95.5 577.47h2.1M366.55 577.47h-2.1M95.5 571.88h2.1M366.55 571.88h-2.1M95.5 566.29h2.1M366.55 566.29h-2.1M95.5 560.71h2.1M366.55 560.71h-2.1M95.5 555.12h3.6M366.55 555.12h-3.6M95.5 549.53h2.1M366.55 549.53h-2.1M95.5 543.94h2.1M366.55 543.94h-2.1M95.5 538.35h2.1M366.55 538.35h-2.1M95.5 532.76h2.1M366.55 532.76h-2.1M95.5 527.17h3.6M366.55 527.17h-3.6M95.5 521.59h2.1M366.55 521.59h-2.1M95.5 516h2.1M366.55 516h-2.1M95.5 510.41h2.1M366.55 510.41h-2.1M95.5 504.82h2.1M366.55 504.82h-2.1M95.5 499.23h3.6M366.55 499.23h-3.6M95.5 493.65h2.1M366.55 493.65h-2.1M95.5 488.06h2.1M366.55 488.06h-2.1M95.5 482.47h2.1M366.55 482.47h-2.1M95.5 476.88h2.1M366.55 476.88h-2.1M95.5 471.29h3.6M366.55 471.29h-3.6M95.5 465.7h2.1M366.55 465.7h-2.1M95.5 460.12h2.1M366.55 460.12h-2.1M95.5 454.53h2.1M366.55 454.53h-2.1M95.5 448.94h2.1M366.55 448.94h-2.1" stroke="#0c0c0c" stroke-width="0.95" fill="none"/>
<rect x="95.5" y="443.4" width="271.05" height="167.5" fill="none" stroke="#0c0c0c" stroke-width="1.15"/>
<text x="91.9" y="449.85" text-anchor="end">0.0</text>
<text x="91.9" y="477.79" text-anchor="end">0.1</text>
<text x="91.9" y="505.73" text-anchor="end">0.2</text>
<text x="91.9" y="533.67" text-anchor="end">0.3</text>
<text x="91.9" y="561.62" text-anchor="end">0.4</text>
<text x="91.9" y="589.56" text-anchor="end">0.5</text>
<text x="91.9" y="617.5" text-anchor="end">0.6</text>
<path d="M57.5 472.29h9.9M57.5 500.23h9.9M57.5 528.17h9.9M57.5 556.12h9.9M57.5 584.06h9.9M57.5 612h9.9" stroke="#111" stroke-width="0.95" fill="none"/>
<text x="100.95" y="631" text-anchor="middle">0</text>
<text x="166.05" y="631" text-anchor="middle">10</text>
<text x="231.14" y="631" text-anchor="middle">20</text>
<text x="296.24" y="631" text-anchor="middle">30</text>
<text x="361.33" y="631" text-anchor="middle">40</text>
<path d="M450.35 580.5H737.4" stroke="#999" stroke-width="1"/>
<path d="M450.35 580.3L494.33 580.3L495.56 577.29L496.78 574.46L498 571.89L499.22 569.48L500.44 567.27L501.66 565.29L502.88 563.46L504.11 561.84L505.33 560.36L506.55 558.94L507.77 557.6L508.99 556.4L510.21 555.38L511.43 554.56L512.66 553.84L513.88 553.18L515.1 552.56L516.32 551.99L517.54 551.46L518.76 550.97L519.98 550.51L521.21 550.09L522.43 549.7L523.65 549.33L524.87 548.98L526.09 548.65L527.31 548.33L528.53 548.03L529.76 547.75L530.98 547.47L532.2 547.21L533.42 546.97L534.64 546.73L535.86 546.5L537.08 546.29L538.31 546.08L539.53 545.89L540.75 545.7L541.97 545.52L543.19 545.34L544.41 545.17L545.63 545L546.86 544.84L548.08 544.69L549.3 544.53L550.52 544.39L551.74 544.25L552.96 544.12L554.18 543.99L555.41 543.88L556.63 543.77L557.85 543.67L559.07 543.58L560.29 543.5L561.51 543.42L562.73 543.34L563.96 543.27L565.18 543.19L566.4 543.12L567.62 543.05L568.84 542.98L570.06 542.92L571.28 542.85L572.51 542.79L573.73 542.73L574.95 542.67L576.17 542.62L577.39 542.56L578.61 542.51L579.83 542.46L581.06 542.41L582.28 542.36L583.5 542.32L584.72 542.27L585.94 542.23L587.16 542.2L588.38 542.16L589.61 542.12L590.83 542.09L592.05 542.06L593.27 542.03L594.49 542L595.71 541.98L596.93 541.95L598.16 541.92L599.38 541.9L600.6 541.87L601.82 541.85L603.04 541.82L604.26 541.8L605.48 541.77L606.71 541.75L607.93 541.73L609.15 541.71L610.37 541.68L611.59 541.66L612.81 541.65L614.03 541.63L615.26 541.61L616.48 541.59L617.7 541.58L618.92 541.57L620.14 541.56L621.36 541.55L622.59 541.54L623.81 541.53L625.03 541.52L626.25 541.52L627.47 541.52L628.69 541.52L629.91 541.52L631.14 541.52L632.36 541.52L633.58 541.52L634.8 541.52L636.02 541.52L637.24 541.52L638.46 541.52L639.69 541.52L640.91 541.52L642.13 541.52L643.35 541.52L644.57 541.52L645.79 541.52L647.01 541.52L648.24 541.52L649.46 541.52L650.68 541.52L651.9 541.52L653.12 541.52L654.34 541.52L655.56 541.52L656.79 541.52L658.01 541.52L659.23 541.52L660.45 541.52L661.67 541.52L662.89 541.52L664.11 541.52L665.34 541.52L666.56 541.53L667.78 541.54L669 541.54L670.22 541.56L671.44 541.57L672.66 541.58L673.89 541.6L675.11 541.61L676.33 541.63L677.55 541.65L678.77 541.67L679.99 541.69L681.21 541.71L682.44 541.73L683.66 541.76L684.88 541.78L686.1 541.8L687.32 541.83L688.54 541.85L689.76 541.88L690.99 541.9L692.21 541.93L693.43 541.95L694.65 541.97L695.87 542L697.09 542.02L698.31 542.04L699.54 542.07L700.76 542.09L701.98 542.12L703.2 542.14L704.42 542.17L705.64 542.2L706.86 542.22L708.09 542.25L709.31 542.28L710.53 542.31L711.75 542.34L712.97 542.37L714.19 542.4L715.41 542.44L716.64 542.47L717.86 542.5L719.08 542.53L720.3 542.57L721.52 542.6L722.74 542.63L723.96 542.66L725.19 542.7L726.41 542.73L727.63 542.76L728.85 542.8L730.07 542.83L731.29 542.86L732.51 542.9L733.74 542.93L734.96 542.96L736.18 543L737.4 543.03" fill="none" stroke="#000" stroke-width="2.0" stroke-linejoin="round" stroke-dasharray="3.59 3.59" clip-path="url(#c6)"/>
<path d="M494.33 580.3L495.42 572.27L496.5 567.15L497.58 563L498.67 559.28L499.75 555.96L500.83 552.99L501.92 550.33L503 547.92L504.08 545.7L505.17 543.6L506.25 541.56L507.34 539.6L508.42 537.76L509.5 536.06L510.59 534.53L511.67 533.18L512.75 531.91L513.84 530.7L514.92 529.55L516 528.45L517.09 527.4L518.17 526.4L519.25 525.45L520.34 524.54L521.42 523.67L522.5 522.84L523.59 522.04L524.67 521.27L525.75 520.53L526.84 519.81L527.92 519.1L529 518.42L530.09 517.75L531.17 517.1L532.25 516.47L533.34 515.87L534.42 515.29L535.5 514.72L536.59 514.19L537.67 513.68L538.75 513.19L539.84 512.73L540.92 512.3L542 511.89L543.09 511.51L544.17 511.15L545.25 510.81L546.34 510.49L547.42 510.18L548.5 509.88L549.59 509.59L550.67 509.32L551.75 509.05L552.84 508.79L553.92 508.53L555 508.27L556.09 508.01L557.17 507.75L558.26 507.49L559.34 507.21L560.42 506.95L561.51 506.7L562.59 506.47L563.67 506.24L564.76 506.01L565.84 505.79L566.92 505.56L568.01 505.32L569.09 505.06L570.17 504.79L571.26 504.5L572.34 504.18L573.42 503.82L574.51 503.38L575.59 502.86L576.67 502.3L577.76 501.73L578.84 501.17L579.92 500.68L581.01 500.23L582.09 499.78L583.17 499.35L584.26 498.93L585.34 498.52L586.42 498.12L587.51 497.72L588.59 497.34L589.67 496.96L590.76 496.59L591.84 496.24L592.92 495.89L594.01 495.55L595.09 495.21L596.17 494.88L597.26 494.55L598.34 494.23L599.42 493.91L600.51 493.6L601.59 493.29L602.67 492.99L603.76 492.7L604.84 492.41L605.92 492.14L607.01 491.87L608.09 491.61L609.18 491.37L610.26 491.13L611.34 490.91L612.43 490.69L613.51 490.47L614.59 490.26L615.68 490.05L616.76 489.84L617.84 489.64L618.93 489.44L620.01 489.25L621.09 489.07L622.18 488.9L623.26 488.74L624.34 488.59L625.43 488.45L626.51 488.33L627.59 488.22L628.68 488.12L629.76 488.03L630.84 487.94L631.93 487.85L633.01 487.77L634.09 487.69L635.18 487.62L636.26 487.55L637.34 487.49L638.43 487.42L639.51 487.37L640.59 487.31L641.68 487.26L642.76 487.21L643.84 487.17L644.93 487.13L646.01 487.1L647.09 487.06L648.18 487.02L649.26 486.99L650.34 486.96L651.43 486.92L652.51 486.89L653.59 486.86L654.68 486.83L655.76 486.81L656.85 486.79L657.93 486.77L659.01 486.75L660.1 486.74L661.18 486.73L662.26 486.73L663.35 486.73L664.43 486.73L665.51 486.73L666.6 486.74L667.68 486.75L668.76 486.76L669.85 486.77L670.93 486.78L672.01 486.8L673.1 486.81L674.18 486.83L675.26 486.85L676.35 486.87L677.43 486.89L678.51 486.91L679.6 486.93L680.68 486.95L681.76 486.98L682.85 487L683.93 487.03L685.01 487.05L686.1 487.08L687.18 487.1L688.26 487.13L689.35 487.16L690.43 487.18L691.51 487.21L692.6 487.24L693.68 487.26L694.76 487.29L695.85 487.31L696.93 487.34L698.01 487.37L699.1 487.39L700.18 487.42L701.26 487.45L702.35 487.47L703.43 487.5L704.51 487.53L705.6 487.56L706.68 487.59L707.77 487.63L708.85 487.66L709.93 487.69L711.02 487.73L712.1 487.76L713.18 487.8L714.27 487.83L715.35 487.87L716.43 487.9L717.52 487.94L718.6 487.98L719.68 488.02L720.77 488.05L721.85 488.09L722.93 488.13L724.02 488.17L725.1 488.21L726.18 488.26L727.27 488.3L728.35 488.34L729.43 488.38L730.52 488.42L731.6 488.47" fill="none" stroke="#00a600" stroke-width="1.85" stroke-linejoin="round" stroke-dasharray="10.05 4.31"/>
<path d="M494.33 580.3L495.42 573.97L496.5 569.33L497.58 565.36L498.67 561.69L499.75 558.33L500.83 555.31L501.92 552.61L503 550.14L504.08 547.84L505.17 545.6L506.25 543.38L507.34 541.23L508.42 539.2L509.5 537.35L510.59 535.72L511.67 534.33L512.75 533.04L513.84 531.82L514.92 530.68L516 529.59L517.09 528.56L518.17 527.59L519.25 526.67L520.34 525.79L521.42 524.95L522.5 524.14L523.59 523.37L524.67 522.62L525.75 521.9L526.84 521.19L527.92 520.5L529 519.84L530.09 519.19L531.17 518.56L532.25 517.95L533.34 517.36L534.42 516.8L535.5 516.25L536.59 515.73L537.67 515.22L538.75 514.74L539.84 514.29L540.92 513.85L542 513.44L543.09 513.05L544.17 512.67L545.25 512.31L546.34 511.96L547.42 511.62L548.5 511.29L549.59 510.98L550.67 510.67L551.75 510.38L552.84 510.09L553.92 509.82L555 509.55L556.09 509.29L557.17 509.03L558.26 508.78L559.34 508.53L560.42 508.29L561.51 508.05L562.59 507.81L563.67 507.58L564.76 507.36L565.84 507.14L566.92 506.92L568.01 506.71L569.09 506.51L570.17 506.31L571.26 506.12L572.34 505.94L573.42 505.76L574.51 505.59L575.59 505.42L576.67 505.27L577.76 505.12L578.84 504.98L579.92 504.84L581.01 504.7L582.09 504.57L583.17 504.44L584.26 504.32L585.34 504.2L586.42 504.08L587.51 503.97L588.59 503.85L589.67 503.75L590.76 503.64L591.84 503.54L592.92 503.43L594.01 503.33L595.09 503.23L596.17 503.13L597.26 503.03L598.34 502.94L599.42 502.84L600.51 502.74L601.59 502.65L602.67 502.55L603.76 502.46L604.84 502.37L605.92 502.28L607.01 502.19L608.09 502.1L609.18 502.01L610.26 501.92L611.34 501.84L612.43 501.76L613.51 501.67L614.59 501.59L615.68 501.52L616.76 501.44L617.84 501.36L618.93 501.29L620.01 501.21L621.09 501.14L622.18 501.07L623.26 501.01L624.34 500.94L625.43 500.88L626.51 500.82L627.59 500.76L628.68 500.7L629.76 500.64L630.84 500.58L631.93 500.52L633.01 500.46L634.09 500.4L635.18 500.34L636.26 500.28L637.34 500.22L638.43 500.16L639.51 500.1L640.59 500.05L641.68 499.99L642.76 499.93L643.84 499.88L644.93 499.83L646.01 499.77L647.09 499.73L648.18 499.68L649.26 499.63L650.34 499.59L651.43 499.55L652.51 499.51L653.59 499.48L654.68 499.45L655.76 499.42L656.85 499.4L657.93 499.37L659.01 499.36L660.1 499.34L661.18 499.34L662.26 499.33L663.35 499.33L664.43 499.33L665.51 499.33L666.6 499.34L667.68 499.34L668.76 499.34L669.85 499.35L670.93 499.35L672.01 499.36L673.1 499.37L674.18 499.37L675.26 499.38L676.35 499.39L677.43 499.4L678.51 499.4L679.6 499.41L680.68 499.42L681.76 499.43L682.85 499.44L683.93 499.45L685.01 499.46L686.1 499.48L687.18 499.49L688.26 499.5L689.35 499.51L690.43 499.52L691.51 499.54L692.6 499.55L693.68 499.56L694.76 499.57L695.85 499.59L696.93 499.6L698.01 499.61L699.1 499.63L700.18 499.64L701.26 499.66L702.35 499.68L703.43 499.7L704.51 499.72L705.6 499.74L706.68 499.76L707.77 499.78L708.85 499.8L709.93 499.83L711.02 499.85L712.1 499.88L713.18 499.91L714.27 499.93L715.35 499.96L716.43 499.99L717.52 500.02L718.6 500.05L719.68 500.08L720.77 500.11L721.85 500.15L722.93 500.18L724.02 500.21L725.1 500.24L726.18 500.28L727.27 500.31L728.35 500.35L729.43 500.38L730.52 500.42L731.6 500.45" fill="none" stroke="#ff0000" stroke-width="1.85" stroke-linejoin="round"/>
<path d="M473.18 532.43V589.66M470.88 532.43h4.6M470.88 589.66h4.6M507.63 532.86V566.88M505.33 532.86h4.6M505.33 566.88h4.6M542.09 482.86V513.79M539.79 482.86h4.6M539.79 513.79h4.6M576.55 481.47V511.63M574.25 481.47h4.6M574.25 511.63h4.6M611 484.72V515.65M608.7 484.72h4.6M608.7 515.65h4.6M645.46 474.59V509M643.16 474.59h4.6M643.16 509h4.6M679.92 457.84V497.82M677.62 457.84h4.6M677.62 497.82h4.6M714.37 449.45V498.95M712.07 449.45h4.6M712.07 498.95h4.6" fill="none" stroke="#2424ff" stroke-width="1.15"/>
<circle cx="473.18" cy="561.04" r="2.3" fill="#0000ff"/>
<circle cx="507.63" cy="549.87" r="2.3" fill="#0000ff"/>
<circle cx="542.09" cy="498.33" r="2.3" fill="#0000ff"/>
<circle cx="576.55" cy="496.55" r="2.3" fill="#0000ff"/>
<circle cx="611" cy="500.18" r="2.3" fill="#0000ff"/>
<circle cx="645.46" cy="491.79" r="2.3" fill="#0000ff"/>
<circle cx="679.92" cy="477.83" r="2.3" fill="#0000ff"/>
<circle cx="714.37" cy="474.2" r="2.3" fill="#0000ff"/>
<path d="M455.95 610.8v-3.6M455.95 433.5v3.6M469.73 610.8v-2.1M469.73 433.5v2.1M483.51 610.8v-2.1M483.51 433.5v2.1M497.3 610.8v-2.1M497.3 433.5v2.1M511.08 610.8v-2.1M511.08 433.5v2.1M524.86 610.8v-3.6M524.86 433.5v3.6M538.64 610.8v-2.1M538.64 433.5v2.1M552.43 610.8v-2.1M552.43 433.5v2.1M566.21 610.8v-2.1M566.21 433.5v2.1M579.99 610.8v-2.1M579.99 433.5v2.1M593.77 610.8v-3.6M593.77 433.5v3.6M607.56 610.8v-2.1M607.56 433.5v2.1M621.34 610.8v-2.1M621.34 433.5v2.1M635.12 610.8v-2.1M635.12 433.5v2.1M648.9 610.8v-2.1M648.9 433.5v2.1M662.69 610.8v-3.6M662.69 433.5v3.6M676.47 610.8v-2.1M676.47 433.5v2.1M690.25 610.8v-2.1M690.25 433.5v2.1M704.04 610.8v-2.1M704.04 433.5v2.1M717.82 610.8v-2.1M717.82 433.5v2.1M731.6 610.8v-3.6M731.6 433.5v3.6M450.35 603.5h2.1M737.4 603.5h-2.1M450.35 595.77h2.1M737.4 595.77h-2.1M450.35 588.03h2.1M737.4 588.03h-2.1M450.35 580.3h3.6M737.4 580.3h-3.6M450.35 572.57h2.1M737.4 572.57h-2.1M450.35 564.83h2.1M737.4 564.83h-2.1M450.35 557.1h2.1M737.4 557.1h-2.1M450.35 549.37h2.1M737.4 549.37h-2.1M450.35 541.63h3.6M737.4 541.63h-3.6M450.35 533.9h2.1M737.4 533.9h-2.1M450.35 526.17h2.1M737.4 526.17h-2.1M450.35 518.43h2.1M737.4 518.43h-2.1M450.35 510.7h2.1M737.4 510.7h-2.1M450.35 502.97h3.6M737.4 502.97h-3.6M450.35 495.23h2.1M737.4 495.23h-2.1M450.35 487.5h2.1M737.4 487.5h-2.1M450.35 479.77h2.1M737.4 479.77h-2.1M450.35 472.03h2.1M737.4 472.03h-2.1M450.35 464.3h3.6M737.4 464.3h-3.6M450.35 456.57h2.1M737.4 456.57h-2.1M450.35 448.83h2.1M737.4 448.83h-2.1M450.35 441.1h2.1M737.4 441.1h-2.1" stroke="#0c0c0c" stroke-width="0.95" fill="none"/>
<rect x="450.35" y="433.5" width="287.05" height="177.3" fill="none" stroke="#0c0c0c" stroke-width="1.15"/>
<text x="446.75" y="586.8" text-anchor="end">0</text>
<text x="446.75" y="548.13" text-anchor="end">1</text>
<text x="446.75" y="509.47" text-anchor="end">2</text>
<text x="446.75" y="470.8" text-anchor="end">3</text>
<text x="455.95" y="630.9" text-anchor="middle">0</text>
<text x="524.86" y="630.9" text-anchor="middle">10</text>
<text x="593.77" y="630.9" text-anchor="middle">20</text>
<text x="662.69" y="630.9" text-anchor="middle">30</text>
<text x="731.6" y="630.9" text-anchor="middle">40</text>
<g transform="translate(48.4 0) rotate(-90)"><text transform="translate(-135.2 0) scale(1.34 1)" font-size="17.6" font-style="italic">σ</text><text x="-122.5" y="3.4" font-size="13.8" font-style="italic">T</text><text x="-57.37" y="0" text-anchor="end" letter-spacing="0.43">[<tspan font-style="italic">μ</tspan>b/sr]</text></g>
<g transform="translate(420.3 0) rotate(-90)"><text transform="translate(-138.2 0) scale(1.34 1)" font-size="17.6" font-style="italic">σ</text><text x="-125.5" y="3.4" font-size="13.8" font-style="italic">L</text><text x="-61.07" y="0" text-anchor="end" letter-spacing="0.43">[<tspan font-style="italic">μ</tspan>b/sr]</text></g>
<g transform="translate(48.4 0) rotate(-90)"><text transform="translate(-348.2 0) scale(1.34 1)" font-size="17.6" font-style="italic">σ</text><text x="-335.5" y="3.4" font-size="13.8">0</text><text x="-272.27" y="0" text-anchor="end" letter-spacing="0.43">[<tspan font-style="italic">μ</tspan>b/sr]</text></g>
<g transform="translate(417.1 0) rotate(-90)"><text transform="translate(-355.6 0) scale(1.34 1)" font-size="17.6" font-style="italic">σ</text><text x="-342.9" y="3.1" font-size="13.3">TT</text><text x="-270.97" y="0" text-anchor="end" letter-spacing="0.43">[<tspan font-style="italic">μ</tspan>b/sr]</text></g>
<g transform="translate(46.3 0) rotate(-90)"><text transform="translate(-569 0) scale(1.34 1)" font-size="17.6" font-style="italic">σ</text><text x="-556.3" y="3.1" font-size="13.3">LT</text><text x="-484.37" y="0" text-anchor="end" letter-spacing="0.43">[<tspan font-style="italic">μ</tspan>b/sr]</text></g>
<g transform="translate(427.6 0) rotate(-90)"><text x="-553.6" y="0" font-style="italic">A</text><text x="-541.6" y="3.0" font-size="14.2">LT′</text><text x="-491.1" y="0" text-anchor="end">[%]</text></g>
<text x="216.4" y="657.6" text-anchor="end">W</text>
<text transform="translate(200.1 657.6) scale(0.9 1)" text-anchor="end">Δ</text>
<text x="223.8" y="657.6" letter-spacing="0.2">[MeV]</text>
<text x="579" y="657.6" text-anchor="end">W</text>
<text transform="translate(562.7 657.6) scale(0.9 1)" text-anchor="end">Δ</text>
<text x="586.4" y="657.6" letter-spacing="0.2">[MeV]</text>
</svg>
</body></html>
